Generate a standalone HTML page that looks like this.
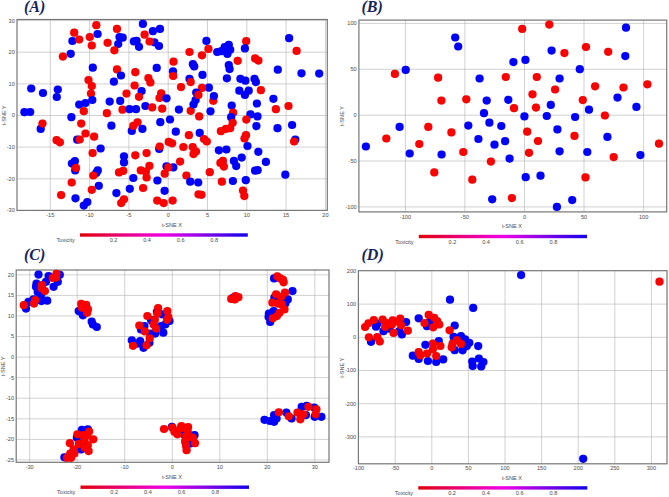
<!DOCTYPE html><html><head><meta charset="utf-8"><style>html,body{margin:0;padding:0;background:#fff}svg{display:block}text{font-family:"Liberation Sans",sans-serif}</style></head><body>
<svg width="669" height="497" viewBox="0 0 669 497">
<defs><linearGradient id="g" x1="0" x2="1" y1="0" y2="0"><stop offset="0" stop-color="#e2000a"/><stop offset="0.5" stop-color="#f000e6"/><stop offset="1" stop-color="#1200ea"/></linearGradient></defs>
<rect width="669" height="497" fill="#fff"/>
<g id="A">
<line x1="50.3" y1="19.5" x2="50.3" y2="210.4" stroke="#b2b2b2" stroke-width="0.6"/>
<line x1="89.6" y1="19.5" x2="89.6" y2="210.4" stroke="#b2b2b2" stroke-width="0.6"/>
<line x1="128.9" y1="19.5" x2="128.9" y2="210.4" stroke="#b2b2b2" stroke-width="0.6"/>
<line x1="168.2" y1="19.5" x2="168.2" y2="210.4" stroke="#b2b2b2" stroke-width="0.6"/>
<line x1="207.5" y1="19.5" x2="207.5" y2="210.4" stroke="#b2b2b2" stroke-width="0.6"/>
<line x1="246.8" y1="19.5" x2="246.8" y2="210.4" stroke="#b2b2b2" stroke-width="0.6"/>
<line x1="286.1" y1="19.5" x2="286.1" y2="210.4" stroke="#b2b2b2" stroke-width="0.6"/>
<line x1="325.4" y1="19.5" x2="325.4" y2="210.4" stroke="#b2b2b2" stroke-width="0.6"/>
<line x1="17" y1="20.6" x2="327.3" y2="20.6" stroke="#b2b2b2" stroke-width="0.6"/>
<line x1="17" y1="52.2" x2="327.3" y2="52.2" stroke="#b2b2b2" stroke-width="0.6"/>
<line x1="17" y1="83.9" x2="327.3" y2="83.9" stroke="#b2b2b2" stroke-width="0.6"/>
<line x1="17" y1="115.5" x2="327.3" y2="115.5" stroke="#b2b2b2" stroke-width="0.6"/>
<line x1="17" y1="147.1" x2="327.3" y2="147.1" stroke="#b2b2b2" stroke-width="0.6"/>
<line x1="17" y1="178.8" x2="327.3" y2="178.8" stroke="#b2b2b2" stroke-width="0.6"/>
<rect x="17" y="19.5" width="310.3" height="190.9" fill="none" stroke="#777777" stroke-width="1.2"/>
<text x="50.3" y="216.8" font-size="5.6" fill="#4a4a4a" text-anchor="middle">-15</text>
<text x="89.6" y="216.8" font-size="5.6" fill="#4a4a4a" text-anchor="middle">-10</text>
<text x="128.9" y="216.8" font-size="5.6" fill="#4a4a4a" text-anchor="middle">-5</text>
<text x="168.2" y="216.8" font-size="5.6" fill="#4a4a4a" text-anchor="middle">0</text>
<text x="207.5" y="216.8" font-size="5.6" fill="#4a4a4a" text-anchor="middle">5</text>
<text x="246.8" y="216.8" font-size="5.6" fill="#4a4a4a" text-anchor="middle">10</text>
<text x="286.1" y="216.8" font-size="5.6" fill="#4a4a4a" text-anchor="middle">15</text>
<text x="325.4" y="216.8" font-size="5.6" fill="#4a4a4a" text-anchor="middle">20</text>
<text x="14.8" y="22.5" font-size="5.6" fill="#4a4a4a" text-anchor="end">30</text>
<text x="14.8" y="54.1" font-size="5.6" fill="#4a4a4a" text-anchor="end">20</text>
<text x="14.8" y="85.8" font-size="5.6" fill="#4a4a4a" text-anchor="end">10</text>
<text x="14.8" y="117.4" font-size="5.6" fill="#4a4a4a" text-anchor="end">0</text>
<text x="14.8" y="149.0" font-size="5.6" fill="#4a4a4a" text-anchor="end">-10</text>
<text x="14.8" y="180.7" font-size="5.6" fill="#4a4a4a" text-anchor="end">-20</text>
<text x="14.8" y="212.3" font-size="5.6" fill="#4a4a4a" text-anchor="end">-30</text>
<text x="172" y="227.1" font-size="5.6" fill="#4a4a4a" text-anchor="middle">t-SNE X</text>
<text transform="translate(5.9,115.2) rotate(-90)" font-size="5.6" fill="#4a4a4a" text-anchor="middle">t-SNE Y</text>
<text x="24" y="12.4" style="font-family:'Liberation Serif',serif;font-weight:bold;font-style:italic" font-size="16" fill="#15245c">(A)</text>
<rect x="80" y="233.3" width="167.8" height="3.4" fill="url(#g)"/>
<text x="65.7" y="242.0" font-size="5.6" fill="#4a4a4a" text-anchor="middle">Toxicity</text>
<text x="113.6" y="242.0" font-size="5.6" fill="#4a4a4a" text-anchor="middle">0.2</text>
<text x="147.1" y="242.0" font-size="5.6" fill="#4a4a4a" text-anchor="middle">0.4</text>
<text x="180.7" y="242.0" font-size="5.6" fill="#4a4a4a" text-anchor="middle">0.6</text>
<text x="214.2" y="242.0" font-size="5.6" fill="#4a4a4a" text-anchor="middle">0.8</text>
<circle cx="96.3" cy="25.2" r="4.1" fill="#ff0000" stroke="#000" stroke-opacity="0.12" stroke-width="0.5"/>
<circle cx="117.0" cy="28.9" r="4.1" fill="#ff0000" stroke="#000" stroke-opacity="0.12" stroke-width="0.5"/>
<circle cx="142.9" cy="23.9" r="4.1" fill="#0000ff" stroke="#000" stroke-opacity="0.12" stroke-width="0.5"/>
<circle cx="152.9" cy="31.2" r="4.1" fill="#0000ff" stroke="#000" stroke-opacity="0.12" stroke-width="0.5"/>
<circle cx="160.0" cy="28.9" r="4.1" fill="#0000ff" stroke="#000" stroke-opacity="0.12" stroke-width="0.5"/>
<circle cx="74.2" cy="32.7" r="4.1" fill="#ff0000" stroke="#000" stroke-opacity="0.12" stroke-width="0.5"/>
<circle cx="97.6" cy="34.0" r="4.1" fill="#0000ff" stroke="#000" stroke-opacity="0.12" stroke-width="0.5"/>
<circle cx="89.8" cy="37.0" r="4.1" fill="#ff0000" stroke="#000" stroke-opacity="0.12" stroke-width="0.5"/>
<circle cx="119.5" cy="37.0" r="4.1" fill="#0000ff" stroke="#000" stroke-opacity="0.12" stroke-width="0.5"/>
<circle cx="122.7" cy="37.7" r="4.1" fill="#0000ff" stroke="#000" stroke-opacity="0.12" stroke-width="0.5"/>
<circle cx="144.6" cy="34.7" r="4.1" fill="#ff0000" stroke="#000" stroke-opacity="0.12" stroke-width="0.5"/>
<circle cx="72.4" cy="41.0" r="4.1" fill="#0000ff" stroke="#000" stroke-opacity="0.12" stroke-width="0.5"/>
<circle cx="79.2" cy="39.5" r="4.1" fill="#ff0000" stroke="#000" stroke-opacity="0.12" stroke-width="0.5"/>
<circle cx="107.6" cy="42.8" r="4.1" fill="#ff0000" stroke="#000" stroke-opacity="0.12" stroke-width="0.5"/>
<circle cx="118.2" cy="44.0" r="4.1" fill="#0000ff" stroke="#000" stroke-opacity="0.12" stroke-width="0.5"/>
<circle cx="91.8" cy="45.5" r="4.1" fill="#ff0000" stroke="#000" stroke-opacity="0.12" stroke-width="0.5"/>
<circle cx="133.9" cy="41.4" r="4.1" fill="#0000ff" stroke="#000" stroke-opacity="0.12" stroke-width="0.5"/>
<circle cx="136.6" cy="40.8" r="4.1" fill="#0000ff" stroke="#000" stroke-opacity="0.12" stroke-width="0.5"/>
<circle cx="139.0" cy="46.8" r="4.1" fill="#0000ff" stroke="#000" stroke-opacity="0.12" stroke-width="0.5"/>
<circle cx="154.4" cy="42.3" r="4.1" fill="#0000ff" stroke="#000" stroke-opacity="0.12" stroke-width="0.5"/>
<circle cx="149.6" cy="41.5" r="4.1" fill="#ff0000" stroke="#000" stroke-opacity="0.12" stroke-width="0.5"/>
<circle cx="159.0" cy="46.0" r="4.1" fill="#0000ff" stroke="#000" stroke-opacity="0.12" stroke-width="0.5"/>
<circle cx="114.4" cy="50.3" r="4.1" fill="#ff0000" stroke="#000" stroke-opacity="0.12" stroke-width="0.5"/>
<circle cx="70.7" cy="53.8" r="4.1" fill="#0000ff" stroke="#000" stroke-opacity="0.12" stroke-width="0.5"/>
<circle cx="62.9" cy="56.6" r="4.1" fill="#ff0000" stroke="#000" stroke-opacity="0.12" stroke-width="0.5"/>
<circle cx="92.8" cy="67.7" r="4.1" fill="#0000ff" stroke="#000" stroke-opacity="0.12" stroke-width="0.5"/>
<circle cx="117.0" cy="69.4" r="4.1" fill="#ff0000" stroke="#000" stroke-opacity="0.12" stroke-width="0.5"/>
<circle cx="156.7" cy="67.9" r="4.1" fill="#0000ff" stroke="#000" stroke-opacity="0.12" stroke-width="0.5"/>
<circle cx="135.3" cy="72.2" r="4.1" fill="#ff0000" stroke="#000" stroke-opacity="0.12" stroke-width="0.5"/>
<circle cx="121.0" cy="75.5" r="4.1" fill="#0000ff" stroke="#000" stroke-opacity="0.12" stroke-width="0.5"/>
<circle cx="88.5" cy="80.0" r="4.1" fill="#ff0000" stroke="#000" stroke-opacity="0.12" stroke-width="0.5"/>
<circle cx="113.9" cy="81.7" r="4.1" fill="#0000ff" stroke="#000" stroke-opacity="0.12" stroke-width="0.5"/>
<circle cx="148.4" cy="78.0" r="4.1" fill="#ff0000" stroke="#000" stroke-opacity="0.12" stroke-width="0.5"/>
<circle cx="150.4" cy="82.5" r="4.1" fill="#ff0000" stroke="#000" stroke-opacity="0.12" stroke-width="0.5"/>
<circle cx="91.8" cy="86.0" r="4.1" fill="#ff0000" stroke="#000" stroke-opacity="0.12" stroke-width="0.5"/>
<circle cx="134.6" cy="85.5" r="4.1" fill="#ff0000" stroke="#000" stroke-opacity="0.12" stroke-width="0.5"/>
<circle cx="31.2" cy="88.5" r="4.1" fill="#0000ff" stroke="#000" stroke-opacity="0.12" stroke-width="0.5"/>
<circle cx="57.8" cy="89.5" r="4.1" fill="#0000ff" stroke="#000" stroke-opacity="0.12" stroke-width="0.5"/>
<circle cx="43.0" cy="93.0" r="4.1" fill="#0000ff" stroke="#000" stroke-opacity="0.12" stroke-width="0.5"/>
<circle cx="56.8" cy="97.0" r="4.1" fill="#0000ff" stroke="#000" stroke-opacity="0.12" stroke-width="0.5"/>
<circle cx="91.0" cy="93.6" r="4.1" fill="#ff0000" stroke="#000" stroke-opacity="0.12" stroke-width="0.5"/>
<circle cx="141.6" cy="91.0" r="4.1" fill="#0000ff" stroke="#000" stroke-opacity="0.12" stroke-width="0.5"/>
<circle cx="126.5" cy="93.6" r="4.1" fill="#ff0000" stroke="#000" stroke-opacity="0.12" stroke-width="0.5"/>
<circle cx="161.2" cy="93.3" r="4.1" fill="#ff0000" stroke="#000" stroke-opacity="0.12" stroke-width="0.5"/>
<circle cx="139.0" cy="96.8" r="4.1" fill="#ff0000" stroke="#000" stroke-opacity="0.12" stroke-width="0.5"/>
<circle cx="159.5" cy="98.0" r="4.1" fill="#ff0000" stroke="#000" stroke-opacity="0.12" stroke-width="0.5"/>
<circle cx="166.5" cy="98.3" r="4.1" fill="#0000ff" stroke="#000" stroke-opacity="0.12" stroke-width="0.5"/>
<circle cx="92.3" cy="100.0" r="4.1" fill="#0000ff" stroke="#000" stroke-opacity="0.12" stroke-width="0.5"/>
<circle cx="109.7" cy="101.6" r="4.1" fill="#0000ff" stroke="#000" stroke-opacity="0.12" stroke-width="0.5"/>
<circle cx="120.2" cy="100.9" r="4.1" fill="#0000ff" stroke="#000" stroke-opacity="0.12" stroke-width="0.5"/>
<circle cx="85.5" cy="103.0" r="4.1" fill="#0000ff" stroke="#000" stroke-opacity="0.12" stroke-width="0.5"/>
<circle cx="79.2" cy="104.6" r="4.1" fill="#0000ff" stroke="#000" stroke-opacity="0.12" stroke-width="0.5"/>
<circle cx="145.4" cy="106.0" r="4.1" fill="#0000ff" stroke="#000" stroke-opacity="0.12" stroke-width="0.5"/>
<circle cx="152.2" cy="107.4" r="4.1" fill="#ff0000" stroke="#000" stroke-opacity="0.12" stroke-width="0.5"/>
<circle cx="162.2" cy="108.7" r="4.1" fill="#ff0000" stroke="#000" stroke-opacity="0.12" stroke-width="0.5"/>
<circle cx="122.5" cy="109.7" r="4.1" fill="#ff0000" stroke="#000" stroke-opacity="0.12" stroke-width="0.5"/>
<circle cx="129.5" cy="109.2" r="4.1" fill="#0000ff" stroke="#000" stroke-opacity="0.12" stroke-width="0.5"/>
<circle cx="136.0" cy="109.2" r="4.1" fill="#0000ff" stroke="#000" stroke-opacity="0.12" stroke-width="0.5"/>
<circle cx="83.8" cy="111.2" r="4.1" fill="#ff0000" stroke="#000" stroke-opacity="0.12" stroke-width="0.5"/>
<circle cx="24.4" cy="112.2" r="4.1" fill="#0000ff" stroke="#000" stroke-opacity="0.12" stroke-width="0.5"/>
<circle cx="30.2" cy="112.0" r="4.1" fill="#0000ff" stroke="#000" stroke-opacity="0.12" stroke-width="0.5"/>
<circle cx="106.9" cy="113.2" r="4.1" fill="#ff0000" stroke="#000" stroke-opacity="0.12" stroke-width="0.5"/>
<circle cx="71.4" cy="117.2" r="4.1" fill="#0000ff" stroke="#000" stroke-opacity="0.12" stroke-width="0.5"/>
<circle cx="40.7" cy="128.9" r="4.1" fill="#0000ff" stroke="#000" stroke-opacity="0.12" stroke-width="0.5"/>
<circle cx="42.5" cy="123.6" r="4.1" fill="#ff0000" stroke="#000" stroke-opacity="0.12" stroke-width="0.5"/>
<circle cx="81.2" cy="123.6" r="4.1" fill="#ff0000" stroke="#000" stroke-opacity="0.12" stroke-width="0.5"/>
<circle cx="137.5" cy="122.3" r="4.1" fill="#ff0000" stroke="#000" stroke-opacity="0.12" stroke-width="0.5"/>
<circle cx="160.3" cy="122.2" r="4.1" fill="#0000ff" stroke="#000" stroke-opacity="0.12" stroke-width="0.5"/>
<circle cx="111.4" cy="125.7" r="4.1" fill="#0000ff" stroke="#000" stroke-opacity="0.12" stroke-width="0.5"/>
<circle cx="131.8" cy="130.9" r="4.1" fill="#0000ff" stroke="#000" stroke-opacity="0.12" stroke-width="0.5"/>
<circle cx="133.3" cy="125.9" r="4.1" fill="#ff0000" stroke="#000" stroke-opacity="0.12" stroke-width="0.5"/>
<circle cx="142.4" cy="128.9" r="4.1" fill="#0000ff" stroke="#000" stroke-opacity="0.12" stroke-width="0.5"/>
<circle cx="85.5" cy="133.5" r="4.1" fill="#ff0000" stroke="#000" stroke-opacity="0.12" stroke-width="0.5"/>
<circle cx="94.1" cy="136.7" r="4.1" fill="#ff0000" stroke="#000" stroke-opacity="0.12" stroke-width="0.5"/>
<circle cx="77.2" cy="139.7" r="4.1" fill="#0000ff" stroke="#000" stroke-opacity="0.12" stroke-width="0.5"/>
<circle cx="79.7" cy="139.5" r="4.1" fill="#ff0000" stroke="#000" stroke-opacity="0.12" stroke-width="0.5"/>
<circle cx="56.6" cy="140.2" r="4.1" fill="#ff0000" stroke="#000" stroke-opacity="0.12" stroke-width="0.5"/>
<circle cx="59.9" cy="142.3" r="4.1" fill="#ff0000" stroke="#000" stroke-opacity="0.12" stroke-width="0.5"/>
<circle cx="100.6" cy="148.5" r="4.1" fill="#0000ff" stroke="#000" stroke-opacity="0.12" stroke-width="0.5"/>
<circle cx="92.6" cy="153.1" r="4.1" fill="#ff0000" stroke="#000" stroke-opacity="0.12" stroke-width="0.5"/>
<circle cx="159.2" cy="149.0" r="4.1" fill="#0000ff" stroke="#000" stroke-opacity="0.12" stroke-width="0.5"/>
<circle cx="159.7" cy="146.5" r="4.1" fill="#ff0000" stroke="#000" stroke-opacity="0.12" stroke-width="0.5"/>
<circle cx="146.6" cy="153.1" r="4.1" fill="#ff0000" stroke="#000" stroke-opacity="0.12" stroke-width="0.5"/>
<circle cx="135.3" cy="155.3" r="4.1" fill="#ff0000" stroke="#000" stroke-opacity="0.12" stroke-width="0.5"/>
<circle cx="124.0" cy="156.3" r="4.1" fill="#0000ff" stroke="#000" stroke-opacity="0.12" stroke-width="0.5"/>
<circle cx="124.0" cy="162.4" r="4.1" fill="#0000ff" stroke="#000" stroke-opacity="0.12" stroke-width="0.5"/>
<circle cx="74.9" cy="161.1" r="4.1" fill="#0000ff" stroke="#000" stroke-opacity="0.12" stroke-width="0.5"/>
<circle cx="71.9" cy="163.6" r="4.1" fill="#0000ff" stroke="#000" stroke-opacity="0.12" stroke-width="0.5"/>
<circle cx="75.2" cy="170.4" r="4.1" fill="#0000ff" stroke="#000" stroke-opacity="0.12" stroke-width="0.5"/>
<circle cx="76.0" cy="167.9" r="4.1" fill="#ff0000" stroke="#000" stroke-opacity="0.12" stroke-width="0.5"/>
<circle cx="97.8" cy="170.4" r="4.1" fill="#0000ff" stroke="#000" stroke-opacity="0.12" stroke-width="0.5"/>
<circle cx="96.3" cy="172.9" r="4.1" fill="#0000ff" stroke="#000" stroke-opacity="0.12" stroke-width="0.5"/>
<circle cx="93.3" cy="175.5" r="4.1" fill="#ff0000" stroke="#000" stroke-opacity="0.12" stroke-width="0.5"/>
<circle cx="149.4" cy="165.9" r="4.1" fill="#ff0000" stroke="#000" stroke-opacity="0.12" stroke-width="0.5"/>
<circle cx="140.8" cy="170.4" r="4.1" fill="#ff0000" stroke="#000" stroke-opacity="0.12" stroke-width="0.5"/>
<circle cx="145.9" cy="171.7" r="4.1" fill="#ff0000" stroke="#000" stroke-opacity="0.12" stroke-width="0.5"/>
<circle cx="123.2" cy="170.9" r="4.1" fill="#ff0000" stroke="#000" stroke-opacity="0.12" stroke-width="0.5"/>
<circle cx="119.0" cy="172.4" r="4.1" fill="#ff0000" stroke="#000" stroke-opacity="0.12" stroke-width="0.5"/>
<circle cx="146.6" cy="177.5" r="4.1" fill="#ff0000" stroke="#000" stroke-opacity="0.12" stroke-width="0.5"/>
<circle cx="133.3" cy="178.0" r="4.1" fill="#0000ff" stroke="#000" stroke-opacity="0.12" stroke-width="0.5"/>
<circle cx="166.5" cy="166.3" r="4.1" fill="#0000ff" stroke="#000" stroke-opacity="0.12" stroke-width="0.5"/>
<circle cx="164.7" cy="173.7" r="4.1" fill="#ff0000" stroke="#000" stroke-opacity="0.12" stroke-width="0.5"/>
<circle cx="157.4" cy="180.5" r="4.1" fill="#0000ff" stroke="#000" stroke-opacity="0.12" stroke-width="0.5"/>
<circle cx="71.7" cy="182.5" r="4.1" fill="#ff0000" stroke="#000" stroke-opacity="0.12" stroke-width="0.5"/>
<circle cx="98.8" cy="185.8" r="4.1" fill="#0000ff" stroke="#000" stroke-opacity="0.12" stroke-width="0.5"/>
<circle cx="91.8" cy="189.8" r="4.1" fill="#ff0000" stroke="#000" stroke-opacity="0.12" stroke-width="0.5"/>
<circle cx="143.1" cy="188.0" r="4.1" fill="#ff0000" stroke="#000" stroke-opacity="0.12" stroke-width="0.5"/>
<circle cx="129.8" cy="188.8" r="4.1" fill="#0000ff" stroke="#000" stroke-opacity="0.12" stroke-width="0.5"/>
<circle cx="164.6" cy="190.8" r="4.1" fill="#0000ff" stroke="#000" stroke-opacity="0.12" stroke-width="0.5"/>
<circle cx="116.4" cy="193.1" r="4.1" fill="#0000ff" stroke="#000" stroke-opacity="0.12" stroke-width="0.5"/>
<circle cx="61.1" cy="195.1" r="4.1" fill="#ff0000" stroke="#000" stroke-opacity="0.12" stroke-width="0.5"/>
<circle cx="75.5" cy="198.3" r="4.1" fill="#0000ff" stroke="#000" stroke-opacity="0.12" stroke-width="0.5"/>
<circle cx="124.0" cy="199.3" r="4.1" fill="#ff0000" stroke="#000" stroke-opacity="0.12" stroke-width="0.5"/>
<circle cx="121.2" cy="203.1" r="4.1" fill="#ff0000" stroke="#000" stroke-opacity="0.12" stroke-width="0.5"/>
<circle cx="87.3" cy="202.1" r="4.1" fill="#0000ff" stroke="#000" stroke-opacity="0.12" stroke-width="0.5"/>
<circle cx="83.8" cy="205.6" r="4.1" fill="#0000ff" stroke="#000" stroke-opacity="0.12" stroke-width="0.5"/>
<circle cx="157.2" cy="200.6" r="4.1" fill="#ff0000" stroke="#000" stroke-opacity="0.12" stroke-width="0.5"/>
<circle cx="163.7" cy="203.1" r="4.1" fill="#ff0000" stroke="#000" stroke-opacity="0.12" stroke-width="0.5"/>
<circle cx="178.9" cy="109.6" r="4.1" fill="#0000ff" stroke="#000" stroke-opacity="0.12" stroke-width="0.5"/>
<circle cx="190.7" cy="110.8" r="4.1" fill="#ff0000" stroke="#000" stroke-opacity="0.12" stroke-width="0.5"/>
<circle cx="193.5" cy="104.5" r="4.1" fill="#0000ff" stroke="#000" stroke-opacity="0.12" stroke-width="0.5"/>
<circle cx="195.6" cy="100.1" r="4.1" fill="#0000ff" stroke="#000" stroke-opacity="0.12" stroke-width="0.5"/>
<circle cx="213.3" cy="100.8" r="4.1" fill="#ff0000" stroke="#000" stroke-opacity="0.12" stroke-width="0.5"/>
<circle cx="210.5" cy="111.3" r="4.1" fill="#0000ff" stroke="#000" stroke-opacity="0.12" stroke-width="0.5"/>
<circle cx="231.7" cy="105.5" r="4.1" fill="#0000ff" stroke="#000" stroke-opacity="0.12" stroke-width="0.5"/>
<circle cx="233.1" cy="112.7" r="4.1" fill="#ff0000" stroke="#000" stroke-opacity="0.12" stroke-width="0.5"/>
<circle cx="231.1" cy="117.2" r="4.1" fill="#0000ff" stroke="#000" stroke-opacity="0.12" stroke-width="0.5"/>
<circle cx="256.9" cy="103.5" r="4.1" fill="#0000ff" stroke="#000" stroke-opacity="0.12" stroke-width="0.5"/>
<circle cx="273.4" cy="98.8" r="4.1" fill="#0000ff" stroke="#000" stroke-opacity="0.12" stroke-width="0.5"/>
<circle cx="288.5" cy="106.0" r="4.1" fill="#ff0000" stroke="#000" stroke-opacity="0.12" stroke-width="0.5"/>
<circle cx="275.9" cy="109.2" r="4.1" fill="#ff0000" stroke="#000" stroke-opacity="0.12" stroke-width="0.5"/>
<circle cx="250.5" cy="114.4" r="4.1" fill="#0000ff" stroke="#000" stroke-opacity="0.12" stroke-width="0.5"/>
<circle cx="257.5" cy="116.4" r="4.1" fill="#0000ff" stroke="#000" stroke-opacity="0.12" stroke-width="0.5"/>
<circle cx="199.2" cy="116.4" r="4.1" fill="#ff0000" stroke="#000" stroke-opacity="0.12" stroke-width="0.5"/>
<circle cx="170.0" cy="119.5" r="4.1" fill="#0000ff" stroke="#000" stroke-opacity="0.12" stroke-width="0.5"/>
<circle cx="246.3" cy="119.6" r="4.1" fill="#ff0000" stroke="#000" stroke-opacity="0.12" stroke-width="0.5"/>
<circle cx="232.7" cy="122.8" r="4.1" fill="#ff0000" stroke="#000" stroke-opacity="0.12" stroke-width="0.5"/>
<circle cx="230.2" cy="128.2" r="4.1" fill="#ff0000" stroke="#000" stroke-opacity="0.12" stroke-width="0.5"/>
<circle cx="225.9" cy="128.9" r="4.1" fill="#ff0000" stroke="#000" stroke-opacity="0.12" stroke-width="0.5"/>
<circle cx="220.9" cy="131.2" r="4.1" fill="#ff0000" stroke="#000" stroke-opacity="0.12" stroke-width="0.5"/>
<circle cx="256.4" cy="126.1" r="4.1" fill="#0000ff" stroke="#000" stroke-opacity="0.12" stroke-width="0.5"/>
<circle cx="277.5" cy="128.2" r="4.1" fill="#0000ff" stroke="#000" stroke-opacity="0.12" stroke-width="0.5"/>
<circle cx="292.1" cy="125.0" r="4.1" fill="#0000ff" stroke="#000" stroke-opacity="0.12" stroke-width="0.5"/>
<circle cx="175.8" cy="131.7" r="4.1" fill="#0000ff" stroke="#000" stroke-opacity="0.12" stroke-width="0.5"/>
<circle cx="199.7" cy="132.9" r="4.1" fill="#0000ff" stroke="#000" stroke-opacity="0.12" stroke-width="0.5"/>
<circle cx="188.9" cy="135.2" r="4.1" fill="#ff0000" stroke="#000" stroke-opacity="0.12" stroke-width="0.5"/>
<circle cx="204.0" cy="139.0" r="4.1" fill="#ff0000" stroke="#000" stroke-opacity="0.12" stroke-width="0.5"/>
<circle cx="206.8" cy="141.5" r="4.1" fill="#ff0000" stroke="#000" stroke-opacity="0.12" stroke-width="0.5"/>
<circle cx="246.0" cy="135.2" r="4.1" fill="#ff0000" stroke="#000" stroke-opacity="0.12" stroke-width="0.5"/>
<circle cx="244.5" cy="138.5" r="4.1" fill="#ff0000" stroke="#000" stroke-opacity="0.12" stroke-width="0.5"/>
<circle cx="295.3" cy="139.5" r="4.1" fill="#0000ff" stroke="#000" stroke-opacity="0.12" stroke-width="0.5"/>
<circle cx="294.1" cy="141.5" r="4.1" fill="#ff0000" stroke="#000" stroke-opacity="0.12" stroke-width="0.5"/>
<circle cx="168.7" cy="141.9" r="4.1" fill="#ff0000" stroke="#000" stroke-opacity="0.12" stroke-width="0.5"/>
<circle cx="172.1" cy="143.3" r="4.1" fill="#ff0000" stroke="#000" stroke-opacity="0.12" stroke-width="0.5"/>
<circle cx="183.4" cy="147.0" r="4.1" fill="#ff0000" stroke="#000" stroke-opacity="0.12" stroke-width="0.5"/>
<circle cx="192.7" cy="147.0" r="4.1" fill="#ff0000" stroke="#000" stroke-opacity="0.12" stroke-width="0.5"/>
<circle cx="196.0" cy="151.6" r="4.1" fill="#ff0000" stroke="#000" stroke-opacity="0.12" stroke-width="0.5"/>
<circle cx="193.5" cy="154.1" r="4.1" fill="#ff0000" stroke="#000" stroke-opacity="0.12" stroke-width="0.5"/>
<circle cx="247.5" cy="146.0" r="4.1" fill="#0000ff" stroke="#000" stroke-opacity="0.12" stroke-width="0.5"/>
<circle cx="218.9" cy="150.3" r="4.1" fill="#0000ff" stroke="#000" stroke-opacity="0.12" stroke-width="0.5"/>
<circle cx="226.4" cy="149.5" r="4.1" fill="#0000ff" stroke="#000" stroke-opacity="0.12" stroke-width="0.5"/>
<circle cx="258.3" cy="151.8" r="4.1" fill="#0000ff" stroke="#000" stroke-opacity="0.12" stroke-width="0.5"/>
<circle cx="241.7" cy="157.6" r="4.1" fill="#0000ff" stroke="#000" stroke-opacity="0.12" stroke-width="0.5"/>
<circle cx="265.9" cy="161.9" r="4.1" fill="#0000ff" stroke="#000" stroke-opacity="0.12" stroke-width="0.5"/>
<circle cx="233.9" cy="160.9" r="4.1" fill="#0000ff" stroke="#000" stroke-opacity="0.12" stroke-width="0.5"/>
<circle cx="236.2" cy="166.1" r="4.1" fill="#0000ff" stroke="#000" stroke-opacity="0.12" stroke-width="0.5"/>
<circle cx="222.9" cy="160.9" r="4.1" fill="#ff0000" stroke="#000" stroke-opacity="0.12" stroke-width="0.5"/>
<circle cx="220.4" cy="162.9" r="4.1" fill="#ff0000" stroke="#000" stroke-opacity="0.12" stroke-width="0.5"/>
<circle cx="223.9" cy="166.6" r="4.1" fill="#ff0000" stroke="#000" stroke-opacity="0.12" stroke-width="0.5"/>
<circle cx="180.1" cy="161.6" r="4.1" fill="#ff0000" stroke="#000" stroke-opacity="0.12" stroke-width="0.5"/>
<circle cx="173.3" cy="167.4" r="4.1" fill="#0000ff" stroke="#000" stroke-opacity="0.12" stroke-width="0.5"/>
<circle cx="168.3" cy="167.4" r="4.1" fill="#ff0000" stroke="#000" stroke-opacity="0.12" stroke-width="0.5"/>
<circle cx="209.8" cy="172.2" r="4.1" fill="#ff0000" stroke="#000" stroke-opacity="0.12" stroke-width="0.5"/>
<circle cx="255.1" cy="170.7" r="4.1" fill="#0000ff" stroke="#000" stroke-opacity="0.12" stroke-width="0.5"/>
<circle cx="257.6" cy="170.2" r="4.1" fill="#0000ff" stroke="#000" stroke-opacity="0.12" stroke-width="0.5"/>
<circle cx="285.3" cy="174.7" r="4.1" fill="#0000ff" stroke="#000" stroke-opacity="0.12" stroke-width="0.5"/>
<circle cx="186.4" cy="175.5" r="4.1" fill="#ff0000" stroke="#000" stroke-opacity="0.12" stroke-width="0.5"/>
<circle cx="190.2" cy="181.7" r="4.1" fill="#0000ff" stroke="#000" stroke-opacity="0.12" stroke-width="0.5"/>
<circle cx="198.2" cy="182.5" r="4.1" fill="#0000ff" stroke="#000" stroke-opacity="0.12" stroke-width="0.5"/>
<circle cx="221.9" cy="181.7" r="4.1" fill="#ff0000" stroke="#000" stroke-opacity="0.12" stroke-width="0.5"/>
<circle cx="232.9" cy="181.0" r="4.1" fill="#0000ff" stroke="#000" stroke-opacity="0.12" stroke-width="0.5"/>
<circle cx="245.8" cy="180.2" r="4.1" fill="#0000ff" stroke="#000" stroke-opacity="0.12" stroke-width="0.5"/>
<circle cx="243.0" cy="190.5" r="4.1" fill="#ff0000" stroke="#000" stroke-opacity="0.12" stroke-width="0.5"/>
<circle cx="244.3" cy="196.1" r="4.1" fill="#ff0000" stroke="#000" stroke-opacity="0.12" stroke-width="0.5"/>
<circle cx="198.5" cy="194.3" r="4.1" fill="#ff0000" stroke="#000" stroke-opacity="0.12" stroke-width="0.5"/>
<circle cx="201.5" cy="194.8" r="4.1" fill="#ff0000" stroke="#000" stroke-opacity="0.12" stroke-width="0.5"/>
<circle cx="172.6" cy="200.6" r="4.1" fill="#ff0000" stroke="#000" stroke-opacity="0.12" stroke-width="0.5"/>
<circle cx="206.4" cy="40.9" r="4.1" fill="#0000ff" stroke="#000" stroke-opacity="0.12" stroke-width="0.5"/>
<circle cx="246.2" cy="41.2" r="4.1" fill="#ff0000" stroke="#000" stroke-opacity="0.12" stroke-width="0.5"/>
<circle cx="289.1" cy="38.2" r="4.1" fill="#0000ff" stroke="#000" stroke-opacity="0.12" stroke-width="0.5"/>
<circle cx="228.8" cy="44.8" r="4.1" fill="#0000ff" stroke="#000" stroke-opacity="0.12" stroke-width="0.5"/>
<circle cx="224.7" cy="47.0" r="4.1" fill="#0000ff" stroke="#000" stroke-opacity="0.12" stroke-width="0.5"/>
<circle cx="230.2" cy="49.8" r="4.1" fill="#0000ff" stroke="#000" stroke-opacity="0.12" stroke-width="0.5"/>
<circle cx="221.3" cy="51.2" r="4.1" fill="#0000ff" stroke="#000" stroke-opacity="0.12" stroke-width="0.5"/>
<circle cx="217.2" cy="52.0" r="4.1" fill="#0000ff" stroke="#000" stroke-opacity="0.12" stroke-width="0.5"/>
<circle cx="227.4" cy="53.9" r="4.1" fill="#0000ff" stroke="#000" stroke-opacity="0.12" stroke-width="0.5"/>
<circle cx="244.9" cy="48.4" r="4.1" fill="#0000ff" stroke="#000" stroke-opacity="0.12" stroke-width="0.5"/>
<circle cx="208.4" cy="48.9" r="4.1" fill="#ff0000" stroke="#000" stroke-opacity="0.12" stroke-width="0.5"/>
<circle cx="189.5" cy="52.0" r="4.1" fill="#ff0000" stroke="#000" stroke-opacity="0.12" stroke-width="0.5"/>
<circle cx="202.0" cy="55.3" r="4.1" fill="#ff0000" stroke="#000" stroke-opacity="0.12" stroke-width="0.5"/>
<circle cx="296.6" cy="50.9" r="4.1" fill="#ff0000" stroke="#000" stroke-opacity="0.12" stroke-width="0.5"/>
<circle cx="173.5" cy="61.7" r="4.1" fill="#ff0000" stroke="#000" stroke-opacity="0.12" stroke-width="0.5"/>
<circle cx="237.7" cy="60.8" r="4.1" fill="#ff0000" stroke="#000" stroke-opacity="0.12" stroke-width="0.5"/>
<circle cx="255.1" cy="58.4" r="4.1" fill="#ff0000" stroke="#000" stroke-opacity="0.12" stroke-width="0.5"/>
<circle cx="258.4" cy="60.6" r="4.1" fill="#ff0000" stroke="#000" stroke-opacity="0.12" stroke-width="0.5"/>
<circle cx="192.9" cy="64.2" r="4.1" fill="#0000ff" stroke="#000" stroke-opacity="0.12" stroke-width="0.5"/>
<circle cx="194.2" cy="66.4" r="4.1" fill="#0000ff" stroke="#000" stroke-opacity="0.12" stroke-width="0.5"/>
<circle cx="228.8" cy="65.0" r="4.1" fill="#0000ff" stroke="#000" stroke-opacity="0.12" stroke-width="0.5"/>
<circle cx="229.6" cy="69.1" r="4.1" fill="#0000ff" stroke="#000" stroke-opacity="0.12" stroke-width="0.5"/>
<circle cx="277.8" cy="69.7" r="4.1" fill="#0000ff" stroke="#000" stroke-opacity="0.12" stroke-width="0.5"/>
<circle cx="301.5" cy="73.3" r="4.1" fill="#0000ff" stroke="#000" stroke-opacity="0.12" stroke-width="0.5"/>
<circle cx="319.2" cy="73.6" r="4.1" fill="#0000ff" stroke="#000" stroke-opacity="0.12" stroke-width="0.5"/>
<circle cx="173.0" cy="71.3" r="4.1" fill="#0000ff" stroke="#000" stroke-opacity="0.12" stroke-width="0.5"/>
<circle cx="173.2" cy="76.0" r="4.1" fill="#ff0000" stroke="#000" stroke-opacity="0.12" stroke-width="0.5"/>
<circle cx="202.5" cy="74.9" r="4.1" fill="#0000ff" stroke="#000" stroke-opacity="0.12" stroke-width="0.5"/>
<circle cx="189.5" cy="78.8" r="4.1" fill="#0000ff" stroke="#000" stroke-opacity="0.12" stroke-width="0.5"/>
<circle cx="226.9" cy="78.3" r="4.1" fill="#0000ff" stroke="#000" stroke-opacity="0.12" stroke-width="0.5"/>
<circle cx="240.4" cy="78.8" r="4.1" fill="#0000ff" stroke="#000" stroke-opacity="0.12" stroke-width="0.5"/>
<circle cx="245.4" cy="80.7" r="4.1" fill="#0000ff" stroke="#000" stroke-opacity="0.12" stroke-width="0.5"/>
<circle cx="254.5" cy="78.8" r="4.1" fill="#0000ff" stroke="#000" stroke-opacity="0.12" stroke-width="0.5"/>
<circle cx="255.9" cy="82.1" r="4.1" fill="#0000ff" stroke="#000" stroke-opacity="0.12" stroke-width="0.5"/>
<circle cx="190.7" cy="82.1" r="4.1" fill="#ff0000" stroke="#000" stroke-opacity="0.12" stroke-width="0.5"/>
<circle cx="181.0" cy="87.1" r="4.1" fill="#ff0000" stroke="#000" stroke-opacity="0.12" stroke-width="0.5"/>
<circle cx="208.9" cy="87.7" r="4.1" fill="#0000ff" stroke="#000" stroke-opacity="0.12" stroke-width="0.5"/>
<circle cx="202.0" cy="87.9" r="4.1" fill="#ff0000" stroke="#000" stroke-opacity="0.12" stroke-width="0.5"/>
<circle cx="196.2" cy="92.6" r="4.1" fill="#0000ff" stroke="#000" stroke-opacity="0.12" stroke-width="0.5"/>
<circle cx="198.4" cy="94.9" r="4.1" fill="#ff0000" stroke="#000" stroke-opacity="0.12" stroke-width="0.5"/>
<circle cx="239.3" cy="90.7" r="4.1" fill="#0000ff" stroke="#000" stroke-opacity="0.12" stroke-width="0.5"/>
<circle cx="248.7" cy="90.7" r="4.1" fill="#0000ff" stroke="#000" stroke-opacity="0.12" stroke-width="0.5"/>
<circle cx="244.9" cy="94.9" r="4.1" fill="#0000ff" stroke="#000" stroke-opacity="0.12" stroke-width="0.5"/>
<circle cx="260.9" cy="90.2" r="4.1" fill="#ff0000" stroke="#000" stroke-opacity="0.12" stroke-width="0.5"/>
<circle cx="213.9" cy="96.0" r="4.1" fill="#0000ff" stroke="#000" stroke-opacity="0.12" stroke-width="0.5"/>
</g>
<g id="B">
<line x1="405.4" y1="20.1" x2="405.4" y2="211.9" stroke="#b2b2b2" stroke-width="0.6"/>
<line x1="464.9" y1="20.1" x2="464.9" y2="211.9" stroke="#b2b2b2" stroke-width="0.6"/>
<line x1="524.5" y1="20.1" x2="524.5" y2="211.9" stroke="#b2b2b2" stroke-width="0.6"/>
<line x1="584.0" y1="20.1" x2="584.0" y2="211.9" stroke="#b2b2b2" stroke-width="0.6"/>
<line x1="643.6" y1="20.1" x2="643.6" y2="211.9" stroke="#b2b2b2" stroke-width="0.6"/>
<line x1="358.9" y1="23.4" x2="666.7" y2="23.4" stroke="#b2b2b2" stroke-width="0.6"/>
<line x1="358.9" y1="69.3" x2="666.7" y2="69.3" stroke="#b2b2b2" stroke-width="0.6"/>
<line x1="358.9" y1="115.2" x2="666.7" y2="115.2" stroke="#b2b2b2" stroke-width="0.6"/>
<line x1="358.9" y1="161.0" x2="666.7" y2="161.0" stroke="#b2b2b2" stroke-width="0.6"/>
<line x1="358.9" y1="206.9" x2="666.7" y2="206.9" stroke="#b2b2b2" stroke-width="0.6"/>
<rect x="358.9" y="20.1" width="307.8" height="191.8" fill="none" stroke="#777777" stroke-width="1.2"/>
<text x="405.4" y="218.9" font-size="5.6" fill="#4a4a4a" text-anchor="middle">-100</text>
<text x="464.9" y="218.9" font-size="5.6" fill="#4a4a4a" text-anchor="middle">-50</text>
<text x="524.5" y="218.9" font-size="5.6" fill="#4a4a4a" text-anchor="middle">0</text>
<text x="584.0" y="218.9" font-size="5.6" fill="#4a4a4a" text-anchor="middle">50</text>
<text x="643.6" y="218.9" font-size="5.6" fill="#4a4a4a" text-anchor="middle">100</text>
<text x="356.7" y="25.3" font-size="5.6" fill="#4a4a4a" text-anchor="end">100</text>
<text x="356.7" y="71.2" font-size="5.6" fill="#4a4a4a" text-anchor="end">50</text>
<text x="356.7" y="117.1" font-size="5.6" fill="#4a4a4a" text-anchor="end">0</text>
<text x="356.7" y="162.9" font-size="5.6" fill="#4a4a4a" text-anchor="end">-50</text>
<text x="356.7" y="208.8" font-size="5.6" fill="#4a4a4a" text-anchor="end">-100</text>
<text x="512" y="228.3" font-size="5.6" fill="#4a4a4a" text-anchor="middle">t-SNE X</text>
<text transform="translate(344.2,116) rotate(-90)" font-size="5.6" fill="#4a4a4a" text-anchor="middle">t-SNE Y</text>
<text x="361.5" y="12.4" style="font-family:'Liberation Serif',serif;font-weight:bold;font-style:italic" font-size="16" fill="#15245c">(B)</text>
<rect x="418.8" y="234.8" width="168.2" height="3.4" fill="url(#g)"/>
<text x="404.5" y="243.5" font-size="5.6" fill="#4a4a4a" text-anchor="middle">Toxicity</text>
<text x="452.4" y="243.5" font-size="5.6" fill="#4a4a4a" text-anchor="middle">0.2</text>
<text x="486.1" y="243.5" font-size="5.6" fill="#4a4a4a" text-anchor="middle">0.4</text>
<text x="519.7" y="243.5" font-size="5.6" fill="#4a4a4a" text-anchor="middle">0.6</text>
<text x="553.4" y="243.5" font-size="5.6" fill="#4a4a4a" text-anchor="middle">0.8</text>
<circle cx="455.2" cy="37.5" r="4.1" fill="#0000ff" stroke="#000" stroke-opacity="0.12" stroke-width="0.5"/>
<circle cx="458.2" cy="46.5" r="4.1" fill="#0000ff" stroke="#000" stroke-opacity="0.12" stroke-width="0.5"/>
<circle cx="405.7" cy="69.9" r="4.1" fill="#0000ff" stroke="#000" stroke-opacity="0.12" stroke-width="0.5"/>
<circle cx="394.9" cy="73.9" r="4.1" fill="#ff0000" stroke="#000" stroke-opacity="0.12" stroke-width="0.5"/>
<circle cx="438.1" cy="77.7" r="4.1" fill="#ff0000" stroke="#000" stroke-opacity="0.12" stroke-width="0.5"/>
<circle cx="479.6" cy="78.5" r="4.1" fill="#0000ff" stroke="#000" stroke-opacity="0.12" stroke-width="0.5"/>
<circle cx="441.4" cy="100.6" r="4.1" fill="#ff0000" stroke="#000" stroke-opacity="0.12" stroke-width="0.5"/>
<circle cx="466.3" cy="99.3" r="4.1" fill="#ff0000" stroke="#000" stroke-opacity="0.12" stroke-width="0.5"/>
<circle cx="486.7" cy="100.6" r="4.1" fill="#0000ff" stroke="#000" stroke-opacity="0.12" stroke-width="0.5"/>
<circle cx="484.0" cy="113.2" r="4.1" fill="#0000ff" stroke="#000" stroke-opacity="0.12" stroke-width="0.5"/>
<circle cx="489.4" cy="122.7" r="4.1" fill="#0000ff" stroke="#000" stroke-opacity="0.12" stroke-width="0.5"/>
<circle cx="522.2" cy="28.9" r="4.1" fill="#ff0000" stroke="#000" stroke-opacity="0.12" stroke-width="0.5"/>
<circle cx="549.3" cy="24.6" r="4.1" fill="#ff0000" stroke="#000" stroke-opacity="0.12" stroke-width="0.5"/>
<circle cx="626.0" cy="27.7" r="4.1" fill="#0000ff" stroke="#000" stroke-opacity="0.12" stroke-width="0.5"/>
<circle cx="586.0" cy="47.0" r="4.1" fill="#ff0000" stroke="#000" stroke-opacity="0.12" stroke-width="0.5"/>
<circle cx="551.6" cy="50.6" r="4.1" fill="#0000ff" stroke="#000" stroke-opacity="0.12" stroke-width="0.5"/>
<circle cx="564.4" cy="53.1" r="4.1" fill="#ff0000" stroke="#000" stroke-opacity="0.12" stroke-width="0.5"/>
<circle cx="608.2" cy="51.8" r="4.1" fill="#ff0000" stroke="#000" stroke-opacity="0.12" stroke-width="0.5"/>
<circle cx="625.3" cy="56.1" r="4.1" fill="#0000ff" stroke="#000" stroke-opacity="0.12" stroke-width="0.5"/>
<circle cx="525.4" cy="59.9" r="4.1" fill="#0000ff" stroke="#000" stroke-opacity="0.12" stroke-width="0.5"/>
<circle cx="513.4" cy="62.1" r="4.1" fill="#0000ff" stroke="#000" stroke-opacity="0.12" stroke-width="0.5"/>
<circle cx="579.8" cy="69.2" r="4.1" fill="#0000ff" stroke="#000" stroke-opacity="0.12" stroke-width="0.5"/>
<circle cx="505.8" cy="77.0" r="4.1" fill="#ff0000" stroke="#000" stroke-opacity="0.12" stroke-width="0.5"/>
<circle cx="536.8" cy="77.0" r="4.1" fill="#ff0000" stroke="#000" stroke-opacity="0.12" stroke-width="0.5"/>
<circle cx="559.6" cy="78.5" r="4.1" fill="#0000ff" stroke="#000" stroke-opacity="0.12" stroke-width="0.5"/>
<circle cx="647.4" cy="84.3" r="4.1" fill="#ff0000" stroke="#000" stroke-opacity="0.12" stroke-width="0.5"/>
<circle cx="595.1" cy="86.3" r="4.1" fill="#ff0000" stroke="#000" stroke-opacity="0.12" stroke-width="0.5"/>
<circle cx="623.5" cy="87.5" r="4.1" fill="#ff0000" stroke="#000" stroke-opacity="0.12" stroke-width="0.5"/>
<circle cx="555.1" cy="89.5" r="4.1" fill="#ff0000" stroke="#000" stroke-opacity="0.12" stroke-width="0.5"/>
<circle cx="532.5" cy="94.3" r="4.1" fill="#ff0000" stroke="#000" stroke-opacity="0.12" stroke-width="0.5"/>
<circle cx="617.5" cy="97.6" r="4.1" fill="#0000ff" stroke="#000" stroke-opacity="0.12" stroke-width="0.5"/>
<circle cx="508.3" cy="99.8" r="4.1" fill="#0000ff" stroke="#000" stroke-opacity="0.12" stroke-width="0.5"/>
<circle cx="582.8" cy="100.1" r="4.1" fill="#ff0000" stroke="#000" stroke-opacity="0.12" stroke-width="0.5"/>
<circle cx="550.8" cy="104.9" r="4.1" fill="#0000ff" stroke="#000" stroke-opacity="0.12" stroke-width="0.5"/>
<circle cx="514.0" cy="108.2" r="4.1" fill="#ff0000" stroke="#000" stroke-opacity="0.12" stroke-width="0.5"/>
<circle cx="536.0" cy="107.6" r="4.1" fill="#ff0000" stroke="#000" stroke-opacity="0.12" stroke-width="0.5"/>
<circle cx="636.4" cy="106.9" r="4.1" fill="#0000ff" stroke="#000" stroke-opacity="0.12" stroke-width="0.5"/>
<circle cx="589.0" cy="109.7" r="4.1" fill="#0000ff" stroke="#000" stroke-opacity="0.12" stroke-width="0.5"/>
<circle cx="604.9" cy="115.5" r="4.1" fill="#ff0000" stroke="#000" stroke-opacity="0.12" stroke-width="0.5"/>
<circle cx="524.4" cy="116.4" r="4.1" fill="#0000ff" stroke="#000" stroke-opacity="0.12" stroke-width="0.5"/>
<circle cx="546.8" cy="116.0" r="4.1" fill="#0000ff" stroke="#000" stroke-opacity="0.12" stroke-width="0.5"/>
<circle cx="575.1" cy="117.0" r="4.1" fill="#0000ff" stroke="#000" stroke-opacity="0.12" stroke-width="0.5"/>
<circle cx="501.3" cy="126.0" r="4.1" fill="#0000ff" stroke="#000" stroke-opacity="0.12" stroke-width="0.5"/>
<circle cx="468.3" cy="125.6" r="4.1" fill="#0000ff" stroke="#000" stroke-opacity="0.12" stroke-width="0.5"/>
<circle cx="399.6" cy="126.9" r="4.1" fill="#0000ff" stroke="#000" stroke-opacity="0.12" stroke-width="0.5"/>
<circle cx="428.3" cy="126.9" r="4.1" fill="#ff0000" stroke="#000" stroke-opacity="0.12" stroke-width="0.5"/>
<circle cx="451.4" cy="132.4" r="4.1" fill="#ff0000" stroke="#000" stroke-opacity="0.12" stroke-width="0.5"/>
<circle cx="386.3" cy="138.5" r="4.1" fill="#ff0000" stroke="#000" stroke-opacity="0.12" stroke-width="0.5"/>
<circle cx="478.4" cy="139.0" r="4.1" fill="#0000ff" stroke="#000" stroke-opacity="0.12" stroke-width="0.5"/>
<circle cx="365.9" cy="146.5" r="4.1" fill="#0000ff" stroke="#000" stroke-opacity="0.12" stroke-width="0.5"/>
<circle cx="419.3" cy="144.0" r="4.1" fill="#ff0000" stroke="#000" stroke-opacity="0.12" stroke-width="0.5"/>
<circle cx="494.5" cy="144.7" r="4.1" fill="#0000ff" stroke="#000" stroke-opacity="0.12" stroke-width="0.5"/>
<circle cx="409.7" cy="153.5" r="4.1" fill="#0000ff" stroke="#000" stroke-opacity="0.12" stroke-width="0.5"/>
<circle cx="463.3" cy="152.0" r="4.1" fill="#ff0000" stroke="#000" stroke-opacity="0.12" stroke-width="0.5"/>
<circle cx="441.6" cy="154.5" r="4.1" fill="#0000ff" stroke="#000" stroke-opacity="0.12" stroke-width="0.5"/>
<circle cx="490.9" cy="161.6" r="4.1" fill="#ff0000" stroke="#000" stroke-opacity="0.12" stroke-width="0.5"/>
<circle cx="434.3" cy="172.4" r="4.1" fill="#ff0000" stroke="#000" stroke-opacity="0.12" stroke-width="0.5"/>
<circle cx="472.3" cy="179.7" r="4.1" fill="#ff0000" stroke="#000" stroke-opacity="0.12" stroke-width="0.5"/>
<circle cx="492.2" cy="199.3" r="4.1" fill="#0000ff" stroke="#000" stroke-opacity="0.12" stroke-width="0.5"/>
<circle cx="527.2" cy="131.7" r="4.1" fill="#ff0000" stroke="#000" stroke-opacity="0.12" stroke-width="0.5"/>
<circle cx="557.4" cy="129.4" r="4.1" fill="#0000ff" stroke="#000" stroke-opacity="0.12" stroke-width="0.5"/>
<circle cx="574.5" cy="135.9" r="4.1" fill="#ff0000" stroke="#000" stroke-opacity="0.12" stroke-width="0.5"/>
<circle cx="607.4" cy="136.9" r="4.1" fill="#0000ff" stroke="#000" stroke-opacity="0.12" stroke-width="0.5"/>
<circle cx="505.1" cy="141.2" r="4.1" fill="#0000ff" stroke="#000" stroke-opacity="0.12" stroke-width="0.5"/>
<circle cx="538.0" cy="141.0" r="4.1" fill="#ff0000" stroke="#000" stroke-opacity="0.12" stroke-width="0.5"/>
<circle cx="659.0" cy="143.7" r="4.1" fill="#ff0000" stroke="#000" stroke-opacity="0.12" stroke-width="0.5"/>
<circle cx="529.0" cy="152.8" r="4.1" fill="#ff0000" stroke="#000" stroke-opacity="0.12" stroke-width="0.5"/>
<circle cx="559.6" cy="151.3" r="4.1" fill="#0000ff" stroke="#000" stroke-opacity="0.12" stroke-width="0.5"/>
<circle cx="587.3" cy="152.0" r="4.1" fill="#0000ff" stroke="#000" stroke-opacity="0.12" stroke-width="0.5"/>
<circle cx="640.4" cy="155.1" r="4.1" fill="#0000ff" stroke="#000" stroke-opacity="0.12" stroke-width="0.5"/>
<circle cx="613.7" cy="157.1" r="4.1" fill="#ff0000" stroke="#000" stroke-opacity="0.12" stroke-width="0.5"/>
<circle cx="509.6" cy="158.6" r="4.1" fill="#0000ff" stroke="#000" stroke-opacity="0.12" stroke-width="0.5"/>
<circle cx="525.7" cy="177.2" r="4.1" fill="#0000ff" stroke="#000" stroke-opacity="0.12" stroke-width="0.5"/>
<circle cx="540.5" cy="175.7" r="4.1" fill="#0000ff" stroke="#000" stroke-opacity="0.12" stroke-width="0.5"/>
<circle cx="585.5" cy="177.4" r="4.1" fill="#ff0000" stroke="#000" stroke-opacity="0.12" stroke-width="0.5"/>
<circle cx="511.9" cy="198.1" r="4.1" fill="#ff0000" stroke="#000" stroke-opacity="0.12" stroke-width="0.5"/>
<circle cx="572.2" cy="200.1" r="4.1" fill="#0000ff" stroke="#000" stroke-opacity="0.12" stroke-width="0.5"/>
<circle cx="556.9" cy="206.9" r="4.1" fill="#0000ff" stroke="#000" stroke-opacity="0.12" stroke-width="0.5"/>
</g>
<g id="C">
<line x1="29.7" y1="270" x2="29.7" y2="462.3" stroke="#b2b2b2" stroke-width="0.6"/>
<line x1="77.2" y1="270" x2="77.2" y2="462.3" stroke="#b2b2b2" stroke-width="0.6"/>
<line x1="124.7" y1="270" x2="124.7" y2="462.3" stroke="#b2b2b2" stroke-width="0.6"/>
<line x1="172.3" y1="270" x2="172.3" y2="462.3" stroke="#b2b2b2" stroke-width="0.6"/>
<line x1="219.8" y1="270" x2="219.8" y2="462.3" stroke="#b2b2b2" stroke-width="0.6"/>
<line x1="267.3" y1="270" x2="267.3" y2="462.3" stroke="#b2b2b2" stroke-width="0.6"/>
<line x1="314.8" y1="270" x2="314.8" y2="462.3" stroke="#b2b2b2" stroke-width="0.6"/>
<line x1="16.2" y1="274.8" x2="329" y2="274.8" stroke="#b2b2b2" stroke-width="0.6"/>
<line x1="16.2" y1="295.4" x2="329" y2="295.4" stroke="#b2b2b2" stroke-width="0.6"/>
<line x1="16.2" y1="315.9" x2="329" y2="315.9" stroke="#b2b2b2" stroke-width="0.6"/>
<line x1="16.2" y1="336.5" x2="329" y2="336.5" stroke="#b2b2b2" stroke-width="0.6"/>
<line x1="16.2" y1="357.1" x2="329" y2="357.1" stroke="#b2b2b2" stroke-width="0.6"/>
<line x1="16.2" y1="377.6" x2="329" y2="377.6" stroke="#b2b2b2" stroke-width="0.6"/>
<line x1="16.2" y1="398.2" x2="329" y2="398.2" stroke="#b2b2b2" stroke-width="0.6"/>
<line x1="16.2" y1="418.8" x2="329" y2="418.8" stroke="#b2b2b2" stroke-width="0.6"/>
<line x1="16.2" y1="439.4" x2="329" y2="439.4" stroke="#b2b2b2" stroke-width="0.6"/>
<line x1="16.2" y1="459.9" x2="329" y2="459.9" stroke="#b2b2b2" stroke-width="0.6"/>
<rect x="16.2" y="270" width="312.8" height="192.3" fill="none" stroke="#777777" stroke-width="1.2"/>
<text x="29.7" y="469.2" font-size="5.6" fill="#4a4a4a" text-anchor="middle">-30</text>
<text x="77.2" y="469.2" font-size="5.6" fill="#4a4a4a" text-anchor="middle">-20</text>
<text x="124.7" y="469.2" font-size="5.6" fill="#4a4a4a" text-anchor="middle">-10</text>
<text x="172.3" y="469.2" font-size="5.6" fill="#4a4a4a" text-anchor="middle">0</text>
<text x="219.8" y="469.2" font-size="5.6" fill="#4a4a4a" text-anchor="middle">10</text>
<text x="267.3" y="469.2" font-size="5.6" fill="#4a4a4a" text-anchor="middle">20</text>
<text x="314.8" y="469.2" font-size="5.6" fill="#4a4a4a" text-anchor="middle">30</text>
<text x="14.0" y="276.7" font-size="5.6" fill="#4a4a4a" text-anchor="end">20</text>
<text x="14.0" y="297.3" font-size="5.6" fill="#4a4a4a" text-anchor="end">15</text>
<text x="14.0" y="317.8" font-size="5.6" fill="#4a4a4a" text-anchor="end">10</text>
<text x="14.0" y="338.4" font-size="5.6" fill="#4a4a4a" text-anchor="end">5</text>
<text x="14.0" y="359.0" font-size="5.6" fill="#4a4a4a" text-anchor="end">0</text>
<text x="14.0" y="379.5" font-size="5.6" fill="#4a4a4a" text-anchor="end">-5</text>
<text x="14.0" y="400.1" font-size="5.6" fill="#4a4a4a" text-anchor="end">-10</text>
<text x="14.0" y="420.7" font-size="5.6" fill="#4a4a4a" text-anchor="end">-15</text>
<text x="14.0" y="441.3" font-size="5.6" fill="#4a4a4a" text-anchor="end">-20</text>
<text x="14.0" y="461.8" font-size="5.6" fill="#4a4a4a" text-anchor="end">-25</text>
<text x="172" y="478.9" font-size="5.6" fill="#4a4a4a" text-anchor="middle">t-SNE X</text>
<text transform="translate(5.0,366.3) rotate(-90)" font-size="5.6" fill="#4a4a4a" text-anchor="middle">t-SNE Y</text>
<text x="24" y="260.4" style="font-family:'Liberation Serif',serif;font-weight:bold;font-style:italic" font-size="16" fill="#15245c">(C)</text>
<rect x="80.5" y="485.5" width="168.5" height="3.4" fill="url(#g)"/>
<text x="66.2" y="494.2" font-size="5.6" fill="#4a4a4a" text-anchor="middle">Toxicity</text>
<text x="114.2" y="494.2" font-size="5.6" fill="#4a4a4a" text-anchor="middle">0.2</text>
<text x="147.9" y="494.2" font-size="5.6" fill="#4a4a4a" text-anchor="middle">0.4</text>
<text x="181.6" y="494.2" font-size="5.6" fill="#4a4a4a" text-anchor="middle">0.6</text>
<text x="215.3" y="494.2" font-size="5.6" fill="#4a4a4a" text-anchor="middle">0.8</text>
<circle cx="38.5" cy="274.6" r="4.1" fill="#0000ff" stroke="#000" stroke-opacity="0.12" stroke-width="0.5"/>
<circle cx="48.6" cy="276.0" r="4.1" fill="#0000ff" stroke="#000" stroke-opacity="0.12" stroke-width="0.5"/>
<circle cx="59.8" cy="274.8" r="4.1" fill="#0000ff" stroke="#000" stroke-opacity="0.12" stroke-width="0.5"/>
<circle cx="57.8" cy="281.8" r="4.1" fill="#0000ff" stroke="#000" stroke-opacity="0.12" stroke-width="0.5"/>
<circle cx="53.6" cy="286.8" r="4.1" fill="#0000ff" stroke="#000" stroke-opacity="0.12" stroke-width="0.5"/>
<circle cx="46.0" cy="281.8" r="4.1" fill="#0000ff" stroke="#000" stroke-opacity="0.12" stroke-width="0.5"/>
<circle cx="36.5" cy="283.5" r="4.1" fill="#0000ff" stroke="#000" stroke-opacity="0.12" stroke-width="0.5"/>
<circle cx="36.0" cy="286.8" r="4.1" fill="#0000ff" stroke="#000" stroke-opacity="0.12" stroke-width="0.5"/>
<circle cx="37.7" cy="291.9" r="4.1" fill="#0000ff" stroke="#000" stroke-opacity="0.12" stroke-width="0.5"/>
<circle cx="41.0" cy="295.2" r="4.1" fill="#0000ff" stroke="#000" stroke-opacity="0.12" stroke-width="0.5"/>
<circle cx="41.4" cy="301.1" r="4.1" fill="#0000ff" stroke="#000" stroke-opacity="0.12" stroke-width="0.5"/>
<circle cx="47.2" cy="300.7" r="4.1" fill="#0000ff" stroke="#000" stroke-opacity="0.12" stroke-width="0.5"/>
<circle cx="33.5" cy="299.4" r="4.1" fill="#0000ff" stroke="#000" stroke-opacity="0.12" stroke-width="0.5"/>
<circle cx="28.5" cy="301.9" r="4.1" fill="#0000ff" stroke="#000" stroke-opacity="0.12" stroke-width="0.5"/>
<circle cx="26.0" cy="308.6" r="4.1" fill="#0000ff" stroke="#000" stroke-opacity="0.12" stroke-width="0.5"/>
<circle cx="56.4" cy="273.9" r="4.1" fill="#ff0000" stroke="#000" stroke-opacity="0.12" stroke-width="0.5"/>
<circle cx="52.7" cy="278.0" r="4.1" fill="#ff0000" stroke="#000" stroke-opacity="0.12" stroke-width="0.5"/>
<circle cx="56.1" cy="277.6" r="4.1" fill="#ff0000" stroke="#000" stroke-opacity="0.12" stroke-width="0.5"/>
<circle cx="41.9" cy="285.2" r="4.1" fill="#ff0000" stroke="#000" stroke-opacity="0.12" stroke-width="0.5"/>
<circle cx="41.9" cy="288.5" r="4.1" fill="#ff0000" stroke="#000" stroke-opacity="0.12" stroke-width="0.5"/>
<circle cx="44.9" cy="291.0" r="4.1" fill="#ff0000" stroke="#000" stroke-opacity="0.12" stroke-width="0.5"/>
<circle cx="35.2" cy="300.2" r="4.1" fill="#ff0000" stroke="#000" stroke-opacity="0.12" stroke-width="0.5"/>
<circle cx="34.0" cy="303.6" r="4.1" fill="#ff0000" stroke="#000" stroke-opacity="0.12" stroke-width="0.5"/>
<circle cx="23.8" cy="305.2" r="4.1" fill="#ff0000" stroke="#000" stroke-opacity="0.12" stroke-width="0.5"/>
<circle cx="78.7" cy="311.1" r="4.1" fill="#0000ff" stroke="#000" stroke-opacity="0.12" stroke-width="0.5"/>
<circle cx="82.9" cy="315.3" r="4.1" fill="#0000ff" stroke="#000" stroke-opacity="0.12" stroke-width="0.5"/>
<circle cx="91.7" cy="321.5" r="4.1" fill="#0000ff" stroke="#000" stroke-opacity="0.12" stroke-width="0.5"/>
<circle cx="92.9" cy="324.5" r="4.1" fill="#0000ff" stroke="#000" stroke-opacity="0.12" stroke-width="0.5"/>
<circle cx="96.8" cy="327.0" r="4.1" fill="#0000ff" stroke="#000" stroke-opacity="0.12" stroke-width="0.5"/>
<circle cx="81.2" cy="303.9" r="4.1" fill="#ff0000" stroke="#000" stroke-opacity="0.12" stroke-width="0.5"/>
<circle cx="86.2" cy="304.9" r="4.1" fill="#ff0000" stroke="#000" stroke-opacity="0.12" stroke-width="0.5"/>
<circle cx="82.0" cy="307.8" r="4.1" fill="#ff0000" stroke="#000" stroke-opacity="0.12" stroke-width="0.5"/>
<circle cx="87.9" cy="309.4" r="4.1" fill="#ff0000" stroke="#000" stroke-opacity="0.12" stroke-width="0.5"/>
<circle cx="87.1" cy="312.8" r="4.1" fill="#ff0000" stroke="#000" stroke-opacity="0.12" stroke-width="0.5"/>
<circle cx="156.9" cy="311.8" r="4.1" fill="#0000ff" stroke="#000" stroke-opacity="0.12" stroke-width="0.5"/>
<circle cx="161.9" cy="314.3" r="4.1" fill="#0000ff" stroke="#000" stroke-opacity="0.12" stroke-width="0.5"/>
<circle cx="169.5" cy="321.0" r="4.1" fill="#0000ff" stroke="#000" stroke-opacity="0.12" stroke-width="0.5"/>
<circle cx="165.3" cy="324.4" r="4.1" fill="#0000ff" stroke="#000" stroke-opacity="0.12" stroke-width="0.5"/>
<circle cx="161.1" cy="326.0" r="4.1" fill="#0000ff" stroke="#000" stroke-opacity="0.12" stroke-width="0.5"/>
<circle cx="163.3" cy="332.7" r="4.1" fill="#0000ff" stroke="#000" stroke-opacity="0.12" stroke-width="0.5"/>
<circle cx="155.2" cy="333.6" r="4.1" fill="#0000ff" stroke="#000" stroke-opacity="0.12" stroke-width="0.5"/>
<circle cx="151.1" cy="320.2" r="4.1" fill="#0000ff" stroke="#000" stroke-opacity="0.12" stroke-width="0.5"/>
<circle cx="144.4" cy="326.0" r="4.1" fill="#0000ff" stroke="#000" stroke-opacity="0.12" stroke-width="0.5"/>
<circle cx="141.0" cy="329.4" r="4.1" fill="#0000ff" stroke="#000" stroke-opacity="0.12" stroke-width="0.5"/>
<circle cx="150.2" cy="333.6" r="4.1" fill="#0000ff" stroke="#000" stroke-opacity="0.12" stroke-width="0.5"/>
<circle cx="131.8" cy="340.3" r="4.1" fill="#0000ff" stroke="#000" stroke-opacity="0.12" stroke-width="0.5"/>
<circle cx="140.2" cy="341.1" r="4.1" fill="#0000ff" stroke="#000" stroke-opacity="0.12" stroke-width="0.5"/>
<circle cx="137.7" cy="343.6" r="4.1" fill="#0000ff" stroke="#000" stroke-opacity="0.12" stroke-width="0.5"/>
<circle cx="143.5" cy="347.8" r="4.1" fill="#0000ff" stroke="#000" stroke-opacity="0.12" stroke-width="0.5"/>
<circle cx="149.4" cy="342.8" r="4.1" fill="#0000ff" stroke="#000" stroke-opacity="0.12" stroke-width="0.5"/>
<circle cx="158.1" cy="308.0" r="4.1" fill="#ff0000" stroke="#000" stroke-opacity="0.12" stroke-width="0.5"/>
<circle cx="167.3" cy="311.0" r="4.1" fill="#ff0000" stroke="#000" stroke-opacity="0.12" stroke-width="0.5"/>
<circle cx="157.3" cy="313.5" r="4.1" fill="#ff0000" stroke="#000" stroke-opacity="0.12" stroke-width="0.5"/>
<circle cx="147.4" cy="316.0" r="4.1" fill="#ff0000" stroke="#000" stroke-opacity="0.12" stroke-width="0.5"/>
<circle cx="168.3" cy="317.2" r="4.1" fill="#ff0000" stroke="#000" stroke-opacity="0.12" stroke-width="0.5"/>
<circle cx="167.0" cy="319.8" r="4.1" fill="#ff0000" stroke="#000" stroke-opacity="0.12" stroke-width="0.5"/>
<circle cx="154.9" cy="319.8" r="4.1" fill="#ff0000" stroke="#000" stroke-opacity="0.12" stroke-width="0.5"/>
<circle cx="139.3" cy="325.5" r="4.1" fill="#ff0000" stroke="#000" stroke-opacity="0.12" stroke-width="0.5"/>
<circle cx="153.6" cy="324.4" r="4.1" fill="#ff0000" stroke="#000" stroke-opacity="0.12" stroke-width="0.5"/>
<circle cx="156.1" cy="328.6" r="4.1" fill="#ff0000" stroke="#000" stroke-opacity="0.12" stroke-width="0.5"/>
<circle cx="144.9" cy="331.4" r="4.1" fill="#ff0000" stroke="#000" stroke-opacity="0.12" stroke-width="0.5"/>
<circle cx="149.7" cy="338.3" r="4.1" fill="#ff0000" stroke="#000" stroke-opacity="0.12" stroke-width="0.5"/>
<circle cx="133.0" cy="345.8" r="4.1" fill="#ff0000" stroke="#000" stroke-opacity="0.12" stroke-width="0.5"/>
<circle cx="146.5" cy="345.3" r="4.1" fill="#ff0000" stroke="#000" stroke-opacity="0.12" stroke-width="0.5"/>
<circle cx="232.6" cy="298.2" r="4.1" fill="#0000ff" stroke="#000" stroke-opacity="0.12" stroke-width="0.5"/>
<circle cx="231.2" cy="298.9" r="4.1" fill="#ff0000" stroke="#000" stroke-opacity="0.12" stroke-width="0.5"/>
<circle cx="235.4" cy="296.0" r="4.1" fill="#ff0000" stroke="#000" stroke-opacity="0.12" stroke-width="0.5"/>
<circle cx="238.4" cy="297.2" r="4.1" fill="#ff0000" stroke="#000" stroke-opacity="0.12" stroke-width="0.5"/>
<circle cx="234.8" cy="299.4" r="4.1" fill="#ff0000" stroke="#000" stroke-opacity="0.12" stroke-width="0.5"/>
<circle cx="274.1" cy="278.4" r="4.1" fill="#0000ff" stroke="#000" stroke-opacity="0.12" stroke-width="0.5"/>
<circle cx="292.5" cy="291.0" r="4.1" fill="#0000ff" stroke="#000" stroke-opacity="0.12" stroke-width="0.5"/>
<circle cx="287.8" cy="299.4" r="4.1" fill="#0000ff" stroke="#000" stroke-opacity="0.12" stroke-width="0.5"/>
<circle cx="268.9" cy="313.6" r="4.1" fill="#0000ff" stroke="#000" stroke-opacity="0.12" stroke-width="0.5"/>
<circle cx="268.6" cy="316.9" r="4.1" fill="#0000ff" stroke="#000" stroke-opacity="0.12" stroke-width="0.5"/>
<circle cx="270.2" cy="322.0" r="4.1" fill="#0000ff" stroke="#000" stroke-opacity="0.12" stroke-width="0.5"/>
<circle cx="273.6" cy="311.1" r="4.1" fill="#0000ff" stroke="#000" stroke-opacity="0.12" stroke-width="0.5"/>
<circle cx="285.3" cy="303.6" r="4.1" fill="#0000ff" stroke="#000" stroke-opacity="0.12" stroke-width="0.5"/>
<circle cx="274.4" cy="297.7" r="4.1" fill="#0000ff" stroke="#000" stroke-opacity="0.12" stroke-width="0.5"/>
<circle cx="277.3" cy="276.4" r="4.1" fill="#ff0000" stroke="#000" stroke-opacity="0.12" stroke-width="0.5"/>
<circle cx="280.3" cy="278.4" r="4.1" fill="#ff0000" stroke="#000" stroke-opacity="0.12" stroke-width="0.5"/>
<circle cx="283.6" cy="282.3" r="4.1" fill="#ff0000" stroke="#000" stroke-opacity="0.12" stroke-width="0.5"/>
<circle cx="285.0" cy="292.7" r="4.1" fill="#ff0000" stroke="#000" stroke-opacity="0.12" stroke-width="0.5"/>
<circle cx="276.1" cy="294.3" r="4.1" fill="#ff0000" stroke="#000" stroke-opacity="0.12" stroke-width="0.5"/>
<circle cx="281.1" cy="296.9" r="4.1" fill="#ff0000" stroke="#000" stroke-opacity="0.12" stroke-width="0.5"/>
<circle cx="272.4" cy="302.7" r="4.1" fill="#ff0000" stroke="#000" stroke-opacity="0.12" stroke-width="0.5"/>
<circle cx="277.8" cy="303.6" r="4.1" fill="#ff0000" stroke="#000" stroke-opacity="0.12" stroke-width="0.5"/>
<circle cx="282.0" cy="304.7" r="4.1" fill="#ff0000" stroke="#000" stroke-opacity="0.12" stroke-width="0.5"/>
<circle cx="284.5" cy="309.4" r="4.1" fill="#ff0000" stroke="#000" stroke-opacity="0.12" stroke-width="0.5"/>
<circle cx="279.5" cy="312.8" r="4.1" fill="#ff0000" stroke="#000" stroke-opacity="0.12" stroke-width="0.5"/>
<circle cx="276.9" cy="316.1" r="4.1" fill="#ff0000" stroke="#000" stroke-opacity="0.12" stroke-width="0.5"/>
<circle cx="272.8" cy="318.3" r="4.1" fill="#ff0000" stroke="#000" stroke-opacity="0.12" stroke-width="0.5"/>
<circle cx="81.9" cy="429.8" r="4.1" fill="#0000ff" stroke="#000" stroke-opacity="0.12" stroke-width="0.5"/>
<circle cx="87.8" cy="429.3" r="4.1" fill="#0000ff" stroke="#000" stroke-opacity="0.12" stroke-width="0.5"/>
<circle cx="76.9" cy="437.7" r="4.1" fill="#0000ff" stroke="#000" stroke-opacity="0.12" stroke-width="0.5"/>
<circle cx="81.1" cy="449.4" r="4.1" fill="#0000ff" stroke="#000" stroke-opacity="0.12" stroke-width="0.5"/>
<circle cx="64.4" cy="457.3" r="4.1" fill="#0000ff" stroke="#000" stroke-opacity="0.12" stroke-width="0.5"/>
<circle cx="89.1" cy="431.5" r="4.1" fill="#ff0000" stroke="#000" stroke-opacity="0.12" stroke-width="0.5"/>
<circle cx="77.4" cy="434.3" r="4.1" fill="#ff0000" stroke="#000" stroke-opacity="0.12" stroke-width="0.5"/>
<circle cx="83.3" cy="435.2" r="4.1" fill="#ff0000" stroke="#000" stroke-opacity="0.12" stroke-width="0.5"/>
<circle cx="87.0" cy="435.2" r="4.1" fill="#ff0000" stroke="#000" stroke-opacity="0.12" stroke-width="0.5"/>
<circle cx="93.3" cy="439.3" r="4.1" fill="#ff0000" stroke="#000" stroke-opacity="0.12" stroke-width="0.5"/>
<circle cx="69.9" cy="443.2" r="4.1" fill="#ff0000" stroke="#000" stroke-opacity="0.12" stroke-width="0.5"/>
<circle cx="78.9" cy="443.9" r="4.1" fill="#ff0000" stroke="#000" stroke-opacity="0.12" stroke-width="0.5"/>
<circle cx="84.5" cy="444.4" r="4.1" fill="#ff0000" stroke="#000" stroke-opacity="0.12" stroke-width="0.5"/>
<circle cx="87.8" cy="445.2" r="4.1" fill="#ff0000" stroke="#000" stroke-opacity="0.12" stroke-width="0.5"/>
<circle cx="73.6" cy="449.4" r="4.1" fill="#ff0000" stroke="#000" stroke-opacity="0.12" stroke-width="0.5"/>
<circle cx="88.6" cy="451.1" r="4.1" fill="#ff0000" stroke="#000" stroke-opacity="0.12" stroke-width="0.5"/>
<circle cx="84.5" cy="447.7" r="4.1" fill="#ff0000" stroke="#000" stroke-opacity="0.12" stroke-width="0.5"/>
<circle cx="70.2" cy="453.6" r="4.1" fill="#ff0000" stroke="#000" stroke-opacity="0.12" stroke-width="0.5"/>
<circle cx="74.4" cy="453.6" r="4.1" fill="#ff0000" stroke="#000" stroke-opacity="0.12" stroke-width="0.5"/>
<circle cx="66.9" cy="457.8" r="4.1" fill="#ff0000" stroke="#000" stroke-opacity="0.12" stroke-width="0.5"/>
<circle cx="71.1" cy="457.8" r="4.1" fill="#ff0000" stroke="#000" stroke-opacity="0.12" stroke-width="0.5"/>
<circle cx="171.9" cy="426.8" r="4.1" fill="#0000ff" stroke="#000" stroke-opacity="0.12" stroke-width="0.5"/>
<circle cx="194.5" cy="435.2" r="4.1" fill="#0000ff" stroke="#000" stroke-opacity="0.12" stroke-width="0.5"/>
<circle cx="183.6" cy="434.3" r="4.1" fill="#0000ff" stroke="#000" stroke-opacity="0.12" stroke-width="0.5"/>
<circle cx="185.6" cy="442.4" r="4.1" fill="#0000ff" stroke="#000" stroke-opacity="0.12" stroke-width="0.5"/>
<circle cx="190.3" cy="443.5" r="4.1" fill="#0000ff" stroke="#000" stroke-opacity="0.12" stroke-width="0.5"/>
<circle cx="164.0" cy="429.0" r="4.1" fill="#ff0000" stroke="#000" stroke-opacity="0.12" stroke-width="0.5"/>
<circle cx="172.2" cy="427.6" r="4.1" fill="#ff0000" stroke="#000" stroke-opacity="0.12" stroke-width="0.5"/>
<circle cx="181.4" cy="426.0" r="4.1" fill="#ff0000" stroke="#000" stroke-opacity="0.12" stroke-width="0.5"/>
<circle cx="188.1" cy="427.1" r="4.1" fill="#ff0000" stroke="#000" stroke-opacity="0.12" stroke-width="0.5"/>
<circle cx="174.4" cy="431.8" r="4.1" fill="#ff0000" stroke="#000" stroke-opacity="0.12" stroke-width="0.5"/>
<circle cx="177.4" cy="434.3" r="4.1" fill="#ff0000" stroke="#000" stroke-opacity="0.12" stroke-width="0.5"/>
<circle cx="180.2" cy="428.5" r="4.1" fill="#ff0000" stroke="#000" stroke-opacity="0.12" stroke-width="0.5"/>
<circle cx="187.8" cy="431.8" r="4.1" fill="#ff0000" stroke="#000" stroke-opacity="0.12" stroke-width="0.5"/>
<circle cx="186.1" cy="436.0" r="4.1" fill="#ff0000" stroke="#000" stroke-opacity="0.12" stroke-width="0.5"/>
<circle cx="192.8" cy="437.7" r="4.1" fill="#ff0000" stroke="#000" stroke-opacity="0.12" stroke-width="0.5"/>
<circle cx="185.2" cy="441.0" r="4.1" fill="#ff0000" stroke="#000" stroke-opacity="0.12" stroke-width="0.5"/>
<circle cx="195.0" cy="443.2" r="4.1" fill="#ff0000" stroke="#000" stroke-opacity="0.12" stroke-width="0.5"/>
<circle cx="186.1" cy="446.0" r="4.1" fill="#ff0000" stroke="#000" stroke-opacity="0.12" stroke-width="0.5"/>
<circle cx="186.6" cy="450.2" r="4.1" fill="#ff0000" stroke="#000" stroke-opacity="0.12" stroke-width="0.5"/>
<circle cx="264.5" cy="419.8" r="4.1" fill="#0000ff" stroke="#000" stroke-opacity="0.12" stroke-width="0.5"/>
<circle cx="269.9" cy="421.0" r="4.1" fill="#0000ff" stroke="#000" stroke-opacity="0.12" stroke-width="0.5"/>
<circle cx="274.1" cy="421.8" r="4.1" fill="#0000ff" stroke="#000" stroke-opacity="0.12" stroke-width="0.5"/>
<circle cx="274.1" cy="415.1" r="4.1" fill="#0000ff" stroke="#000" stroke-opacity="0.12" stroke-width="0.5"/>
<circle cx="276.6" cy="418.5" r="4.1" fill="#0000ff" stroke="#000" stroke-opacity="0.12" stroke-width="0.5"/>
<circle cx="286.3" cy="412.6" r="4.1" fill="#0000ff" stroke="#000" stroke-opacity="0.12" stroke-width="0.5"/>
<circle cx="291.6" cy="418.5" r="4.1" fill="#0000ff" stroke="#000" stroke-opacity="0.12" stroke-width="0.5"/>
<circle cx="301.7" cy="406.8" r="4.1" fill="#0000ff" stroke="#000" stroke-opacity="0.12" stroke-width="0.5"/>
<circle cx="306.7" cy="405.9" r="4.1" fill="#0000ff" stroke="#000" stroke-opacity="0.12" stroke-width="0.5"/>
<circle cx="305.9" cy="415.1" r="4.1" fill="#0000ff" stroke="#000" stroke-opacity="0.12" stroke-width="0.5"/>
<circle cx="314.2" cy="407.6" r="4.1" fill="#0000ff" stroke="#000" stroke-opacity="0.12" stroke-width="0.5"/>
<circle cx="314.7" cy="416.8" r="4.1" fill="#0000ff" stroke="#000" stroke-opacity="0.12" stroke-width="0.5"/>
<circle cx="321.4" cy="416.8" r="4.1" fill="#0000ff" stroke="#000" stroke-opacity="0.12" stroke-width="0.5"/>
<circle cx="278.8" cy="412.3" r="4.1" fill="#ff0000" stroke="#000" stroke-opacity="0.12" stroke-width="0.5"/>
<circle cx="288.8" cy="416.3" r="4.1" fill="#ff0000" stroke="#000" stroke-opacity="0.12" stroke-width="0.5"/>
<circle cx="297.5" cy="412.6" r="4.1" fill="#ff0000" stroke="#000" stroke-opacity="0.12" stroke-width="0.5"/>
<circle cx="303.4" cy="414.3" r="4.1" fill="#ff0000" stroke="#000" stroke-opacity="0.12" stroke-width="0.5"/>
<circle cx="300.3" cy="419.3" r="4.1" fill="#ff0000" stroke="#000" stroke-opacity="0.12" stroke-width="0.5"/>
<circle cx="308.4" cy="406.8" r="4.1" fill="#ff0000" stroke="#000" stroke-opacity="0.12" stroke-width="0.5"/>
<circle cx="316.4" cy="409.3" r="4.1" fill="#ff0000" stroke="#000" stroke-opacity="0.12" stroke-width="0.5"/>
<circle cx="315.6" cy="414.3" r="4.1" fill="#ff0000" stroke="#000" stroke-opacity="0.12" stroke-width="0.5"/>
<circle cx="84.5" cy="439.7" r="4.1" fill="#ff0000" stroke="#000" stroke-opacity="0.12" stroke-width="0.5"/>
<circle cx="283.0" cy="279.8" r="4.1" fill="#ff0000" stroke="#000" stroke-opacity="0.12" stroke-width="0.5"/>
</g>
<g id="D">
<line x1="395.2" y1="270.7" x2="395.2" y2="463.8" stroke="#b2b2b2" stroke-width="0.6"/>
<line x1="431.8" y1="270.7" x2="431.8" y2="463.8" stroke="#b2b2b2" stroke-width="0.6"/>
<line x1="468.4" y1="270.7" x2="468.4" y2="463.8" stroke="#b2b2b2" stroke-width="0.6"/>
<line x1="505.0" y1="270.7" x2="505.0" y2="463.8" stroke="#b2b2b2" stroke-width="0.6"/>
<line x1="541.6" y1="270.7" x2="541.6" y2="463.8" stroke="#b2b2b2" stroke-width="0.6"/>
<line x1="578.2" y1="270.7" x2="578.2" y2="463.8" stroke="#b2b2b2" stroke-width="0.6"/>
<line x1="614.8" y1="270.7" x2="614.8" y2="463.8" stroke="#b2b2b2" stroke-width="0.6"/>
<line x1="651.4" y1="270.7" x2="651.4" y2="463.8" stroke="#b2b2b2" stroke-width="0.6"/>
<line x1="358.4" y1="304.1" x2="667" y2="304.1" stroke="#b2b2b2" stroke-width="0.6"/>
<line x1="358.4" y1="337.3" x2="667" y2="337.3" stroke="#b2b2b2" stroke-width="0.6"/>
<line x1="358.4" y1="370.5" x2="667" y2="370.5" stroke="#b2b2b2" stroke-width="0.6"/>
<line x1="358.4" y1="403.7" x2="667" y2="403.7" stroke="#b2b2b2" stroke-width="0.6"/>
<line x1="358.4" y1="436.9" x2="667" y2="436.9" stroke="#b2b2b2" stroke-width="0.6"/>
<rect x="358.4" y="270.7" width="308.6" height="193.1" fill="none" stroke="#777777" stroke-width="1.2"/>
<text x="358.6" y="469.7" font-size="5.6" fill="#4a4a4a" text-anchor="middle">-100</text>
<text x="395.2" y="469.7" font-size="5.6" fill="#4a4a4a" text-anchor="middle">-50</text>
<text x="431.8" y="469.7" font-size="5.6" fill="#4a4a4a" text-anchor="middle">0</text>
<text x="468.4" y="469.7" font-size="5.6" fill="#4a4a4a" text-anchor="middle">50</text>
<text x="505.0" y="469.7" font-size="5.6" fill="#4a4a4a" text-anchor="middle">100</text>
<text x="541.6" y="469.7" font-size="5.6" fill="#4a4a4a" text-anchor="middle">150</text>
<text x="578.2" y="469.7" font-size="5.6" fill="#4a4a4a" text-anchor="middle">200</text>
<text x="614.8" y="469.7" font-size="5.6" fill="#4a4a4a" text-anchor="middle">250</text>
<text x="651.4" y="469.7" font-size="5.6" fill="#4a4a4a" text-anchor="middle">300</text>
<text x="356.2" y="272.8" font-size="5.6" fill="#4a4a4a" text-anchor="end">200</text>
<text x="356.2" y="306.0" font-size="5.6" fill="#4a4a4a" text-anchor="end">100</text>
<text x="356.2" y="339.2" font-size="5.6" fill="#4a4a4a" text-anchor="end">0</text>
<text x="356.2" y="372.4" font-size="5.6" fill="#4a4a4a" text-anchor="end">-100</text>
<text x="356.2" y="405.6" font-size="5.6" fill="#4a4a4a" text-anchor="end">-200</text>
<text x="356.2" y="438.8" font-size="5.6" fill="#4a4a4a" text-anchor="end">-300</text>
<text x="512" y="479.5" font-size="5.6" fill="#4a4a4a" text-anchor="middle">t-SNE X</text>
<text transform="translate(343.7,367.6) rotate(-90)" font-size="5.6" fill="#4a4a4a" text-anchor="middle">t-SNE Y</text>
<text x="361.5" y="260.4" style="font-family:'Liberation Serif',serif;font-weight:bold;font-style:italic" font-size="16" fill="#15245c">(D)</text>
<rect x="418.3" y="486.2" width="169.0" height="3.4" fill="url(#g)"/>
<text x="404.0" y="494.9" font-size="5.6" fill="#4a4a4a" text-anchor="middle">Toxicity</text>
<text x="452.1" y="494.9" font-size="5.6" fill="#4a4a4a" text-anchor="middle">0.2</text>
<text x="485.9" y="494.9" font-size="5.6" fill="#4a4a4a" text-anchor="middle">0.4</text>
<text x="519.7" y="494.9" font-size="5.6" fill="#4a4a4a" text-anchor="middle">0.6</text>
<text x="553.5" y="494.9" font-size="5.6" fill="#4a4a4a" text-anchor="middle">0.8</text>
<circle cx="376.0" cy="326.7" r="4.1" fill="#0000ff" stroke="#000" stroke-opacity="0.12" stroke-width="0.5"/>
<circle cx="377.6" cy="323.6" r="4.1" fill="#0000ff" stroke="#000" stroke-opacity="0.12" stroke-width="0.5"/>
<circle cx="383.5" cy="331.2" r="4.1" fill="#0000ff" stroke="#000" stroke-opacity="0.12" stroke-width="0.5"/>
<circle cx="389.4" cy="328.7" r="4.1" fill="#0000ff" stroke="#000" stroke-opacity="0.12" stroke-width="0.5"/>
<circle cx="406.1" cy="322.0" r="4.1" fill="#0000ff" stroke="#000" stroke-opacity="0.12" stroke-width="0.5"/>
<circle cx="399.4" cy="331.2" r="4.1" fill="#0000ff" stroke="#000" stroke-opacity="0.12" stroke-width="0.5"/>
<circle cx="401.9" cy="334.5" r="4.1" fill="#0000ff" stroke="#000" stroke-opacity="0.12" stroke-width="0.5"/>
<circle cx="418.7" cy="318.3" r="4.1" fill="#0000ff" stroke="#000" stroke-opacity="0.12" stroke-width="0.5"/>
<circle cx="427.0" cy="326.2" r="4.1" fill="#0000ff" stroke="#000" stroke-opacity="0.12" stroke-width="0.5"/>
<circle cx="429.5" cy="322.0" r="4.1" fill="#0000ff" stroke="#000" stroke-opacity="0.12" stroke-width="0.5"/>
<circle cx="450.0" cy="299.7" r="4.1" fill="#0000ff" stroke="#000" stroke-opacity="0.12" stroke-width="0.5"/>
<circle cx="454.7" cy="325.5" r="4.1" fill="#0000ff" stroke="#000" stroke-opacity="0.12" stroke-width="0.5"/>
<circle cx="453.6" cy="336.9" r="4.1" fill="#0000ff" stroke="#000" stroke-opacity="0.12" stroke-width="0.5"/>
<circle cx="371.0" cy="341.8" r="4.1" fill="#0000ff" stroke="#000" stroke-opacity="0.12" stroke-width="0.5"/>
<circle cx="425.4" cy="344.8" r="4.1" fill="#0000ff" stroke="#000" stroke-opacity="0.12" stroke-width="0.5"/>
<circle cx="438.8" cy="341.0" r="4.1" fill="#0000ff" stroke="#000" stroke-opacity="0.12" stroke-width="0.5"/>
<circle cx="412.8" cy="355.7" r="4.1" fill="#0000ff" stroke="#000" stroke-opacity="0.12" stroke-width="0.5"/>
<circle cx="418.7" cy="358.9" r="4.1" fill="#0000ff" stroke="#000" stroke-opacity="0.12" stroke-width="0.5"/>
<circle cx="427.9" cy="361.0" r="4.1" fill="#0000ff" stroke="#000" stroke-opacity="0.12" stroke-width="0.5"/>
<circle cx="436.2" cy="361.9" r="4.1" fill="#0000ff" stroke="#000" stroke-opacity="0.12" stroke-width="0.5"/>
<circle cx="443.2" cy="359.4" r="4.1" fill="#0000ff" stroke="#000" stroke-opacity="0.12" stroke-width="0.5"/>
<circle cx="454.7" cy="350.2" r="4.1" fill="#0000ff" stroke="#000" stroke-opacity="0.12" stroke-width="0.5"/>
<circle cx="473.2" cy="307.9" r="4.1" fill="#0000ff" stroke="#000" stroke-opacity="0.12" stroke-width="0.5"/>
<circle cx="461.0" cy="336.1" r="4.1" fill="#0000ff" stroke="#000" stroke-opacity="0.12" stroke-width="0.5"/>
<circle cx="465.1" cy="339.4" r="4.1" fill="#0000ff" stroke="#000" stroke-opacity="0.12" stroke-width="0.5"/>
<circle cx="469.3" cy="342.8" r="4.1" fill="#0000ff" stroke="#000" stroke-opacity="0.12" stroke-width="0.5"/>
<circle cx="466.8" cy="346.1" r="4.1" fill="#0000ff" stroke="#000" stroke-opacity="0.12" stroke-width="0.5"/>
<circle cx="478.2" cy="346.1" r="4.1" fill="#0000ff" stroke="#000" stroke-opacity="0.12" stroke-width="0.5"/>
<circle cx="462.6" cy="350.3" r="4.1" fill="#0000ff" stroke="#000" stroke-opacity="0.12" stroke-width="0.5"/>
<circle cx="472.2" cy="361.6" r="4.1" fill="#0000ff" stroke="#000" stroke-opacity="0.12" stroke-width="0.5"/>
<circle cx="478.9" cy="358.6" r="4.1" fill="#0000ff" stroke="#000" stroke-opacity="0.12" stroke-width="0.5"/>
<circle cx="483.4" cy="362.0" r="4.1" fill="#0000ff" stroke="#000" stroke-opacity="0.12" stroke-width="0.5"/>
<circle cx="472.7" cy="366.1" r="4.1" fill="#0000ff" stroke="#000" stroke-opacity="0.12" stroke-width="0.5"/>
<circle cx="481.2" cy="366.5" r="4.1" fill="#0000ff" stroke="#000" stroke-opacity="0.12" stroke-width="0.5"/>
<circle cx="521.1" cy="275.1" r="4.1" fill="#0000ff" stroke="#000" stroke-opacity="0.12" stroke-width="0.5"/>
<circle cx="583.2" cy="458.8" r="4.1" fill="#0000ff" stroke="#000" stroke-opacity="0.12" stroke-width="0.5"/>
<circle cx="365.1" cy="327.0" r="4.1" fill="#ff0000" stroke="#000" stroke-opacity="0.12" stroke-width="0.5"/>
<circle cx="368.4" cy="323.3" r="4.1" fill="#ff0000" stroke="#000" stroke-opacity="0.12" stroke-width="0.5"/>
<circle cx="373.8" cy="320.0" r="4.1" fill="#ff0000" stroke="#000" stroke-opacity="0.12" stroke-width="0.5"/>
<circle cx="382.7" cy="319.5" r="4.1" fill="#ff0000" stroke="#000" stroke-opacity="0.12" stroke-width="0.5"/>
<circle cx="386.0" cy="322.8" r="4.1" fill="#ff0000" stroke="#000" stroke-opacity="0.12" stroke-width="0.5"/>
<circle cx="385.2" cy="327.0" r="4.1" fill="#ff0000" stroke="#000" stroke-opacity="0.12" stroke-width="0.5"/>
<circle cx="392.7" cy="320.3" r="4.1" fill="#ff0000" stroke="#000" stroke-opacity="0.12" stroke-width="0.5"/>
<circle cx="391.9" cy="324.5" r="4.1" fill="#ff0000" stroke="#000" stroke-opacity="0.12" stroke-width="0.5"/>
<circle cx="400.2" cy="318.6" r="4.1" fill="#ff0000" stroke="#000" stroke-opacity="0.12" stroke-width="0.5"/>
<circle cx="398.6" cy="322.0" r="4.1" fill="#ff0000" stroke="#000" stroke-opacity="0.12" stroke-width="0.5"/>
<circle cx="401.1" cy="325.3" r="4.1" fill="#ff0000" stroke="#000" stroke-opacity="0.12" stroke-width="0.5"/>
<circle cx="393.6" cy="332.9" r="4.1" fill="#ff0000" stroke="#000" stroke-opacity="0.12" stroke-width="0.5"/>
<circle cx="407.8" cy="330.7" r="4.1" fill="#ff0000" stroke="#000" stroke-opacity="0.12" stroke-width="0.5"/>
<circle cx="368.9" cy="337.3" r="4.1" fill="#ff0000" stroke="#000" stroke-opacity="0.12" stroke-width="0.5"/>
<circle cx="377.3" cy="337.2" r="4.1" fill="#ff0000" stroke="#000" stroke-opacity="0.12" stroke-width="0.5"/>
<circle cx="428.7" cy="314.9" r="4.1" fill="#ff0000" stroke="#000" stroke-opacity="0.12" stroke-width="0.5"/>
<circle cx="434.2" cy="317.8" r="4.1" fill="#ff0000" stroke="#000" stroke-opacity="0.12" stroke-width="0.5"/>
<circle cx="437.1" cy="321.1" r="4.1" fill="#ff0000" stroke="#000" stroke-opacity="0.12" stroke-width="0.5"/>
<circle cx="439.3" cy="324.5" r="4.1" fill="#ff0000" stroke="#000" stroke-opacity="0.12" stroke-width="0.5"/>
<circle cx="424.5" cy="323.1" r="4.1" fill="#ff0000" stroke="#000" stroke-opacity="0.12" stroke-width="0.5"/>
<circle cx="433.2" cy="327.3" r="4.1" fill="#ff0000" stroke="#000" stroke-opacity="0.12" stroke-width="0.5"/>
<circle cx="449.6" cy="330.3" r="4.1" fill="#ff0000" stroke="#000" stroke-opacity="0.12" stroke-width="0.5"/>
<circle cx="379.8" cy="341.5" r="4.1" fill="#ff0000" stroke="#000" stroke-opacity="0.12" stroke-width="0.5"/>
<circle cx="432.9" cy="343.5" r="4.1" fill="#ff0000" stroke="#000" stroke-opacity="0.12" stroke-width="0.5"/>
<circle cx="440.4" cy="346.0" r="4.1" fill="#ff0000" stroke="#000" stroke-opacity="0.12" stroke-width="0.5"/>
<circle cx="432.9" cy="349.3" r="4.1" fill="#ff0000" stroke="#000" stroke-opacity="0.12" stroke-width="0.5"/>
<circle cx="418.7" cy="352.2" r="4.1" fill="#ff0000" stroke="#000" stroke-opacity="0.12" stroke-width="0.5"/>
<circle cx="427.0" cy="353.5" r="4.1" fill="#ff0000" stroke="#000" stroke-opacity="0.12" stroke-width="0.5"/>
<circle cx="420.3" cy="355.5" r="4.1" fill="#ff0000" stroke="#000" stroke-opacity="0.12" stroke-width="0.5"/>
<circle cx="436.2" cy="356.0" r="4.1" fill="#ff0000" stroke="#000" stroke-opacity="0.12" stroke-width="0.5"/>
<circle cx="456.8" cy="340.2" r="4.1" fill="#ff0000" stroke="#000" stroke-opacity="0.12" stroke-width="0.5"/>
<circle cx="461.0" cy="343.9" r="4.1" fill="#ff0000" stroke="#000" stroke-opacity="0.12" stroke-width="0.5"/>
<circle cx="452.6" cy="343.6" r="4.1" fill="#ff0000" stroke="#000" stroke-opacity="0.12" stroke-width="0.5"/>
<circle cx="451.7" cy="347.3" r="4.1" fill="#ff0000" stroke="#000" stroke-opacity="0.12" stroke-width="0.5"/>
<circle cx="659.5" cy="281.7" r="4.1" fill="#ff0000" stroke="#000" stroke-opacity="0.12" stroke-width="0.5"/>
</g>
</svg></body></html>
